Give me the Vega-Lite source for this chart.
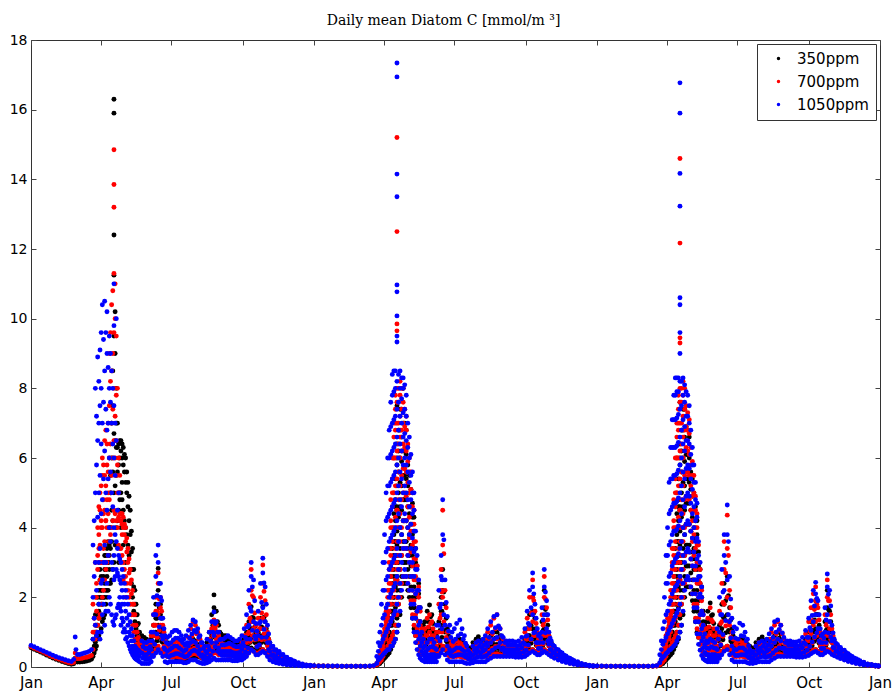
{
"$schema":"https://vega.github.io/schema/vega-lite/v6.json",
"width":849,"height":627,
"autosize":{"type":"none"},
"padding":{"left":31,"top":40,"right":15,"bottom":24},
"background":"white",
"title":{"text":"Daily mean Diatom C [mmol/m ³]","font":"DejaVu Serif","fontSize":14,"fontWeight":"normal","color":"black","offset":5,"anchor":"middle","dx":-12},
"config":{"view":{"stroke":"#333","strokeWidth":1}},
"data":{"values":[
{"t":0,"a":0.55,"b":0.58,"c":0.62},{"t":4,"a":0.51,"b":0.54,"c":0.58},{"t":8,"a":0.47,"b":0.5,"c":0.54},{"t":12,"a":0.43,"b":0.46,"c":0.5},{"t":16,"a":0.39,"b":0.42,"c":0.46},{"t":20,"a":0.34,"b":0.37,"c":0.42},{"t":24,"a":0.3,"b":0.33,"c":0.38},{"t":28,"a":0.26,"b":0.29,"c":0.34},{"t":32,"a":0.22,"b":0.25,"c":0.3},{"t":36,"a":0.19,"b":0.22,"c":0.27},{"t":40,"a":0.16,"b":0.19,"c":0.24},{"t":44,"a":0.13,"b":0.16,"c":0.21},{"t":48,"a":0.1,"b":0.13,"c":0.18},{"t":52,"a":0.08,"b":0.11,"c":0.16},{"t":55,"a":0.09,"b":0.13,"c":0.22},{"t":57,"a":0.25,"b":0.4,"c":0.86},{"t":58,"a":0.15,"b":0.25,"c":0.5},{"t":60,"a":0.14,"b":0.24,"c":0.36},{"t":63,"a":0.14,"b":0.24,"c":0.36},{"t":66,"a":0.15,"b":0.25,"c":0.38},{"t":69,"a":0.16,"b":0.27,"c":0.4},{"t":72,"a":0.17,"b":0.28,"c":0.42},{"t":75,"a":0.19,"b":0.3,"c":0.45},{"t":78,"a":0.22,"b":0.33,"c":0.5},
{"t":80,"a":0.3,"b":0.5,"c":0.8},{"t":80,"a":0.5,"b":1.0,"c":2.0},{"t":80,"a":0.8,"b":1.8,"c":3.5},
{"t":81.5,"a":0.4,"b":0.8,"c":1.4},{"t":81.5,"a":0.6,"b":1.4,"c":2.6},{"t":81.5,"a":0.5,"b":1.0,"c":4.2},
{"t":83,"a":0.5,"b":0.8,"c":1.2},{"t":83,"a":1.0,"b":2.0,"c":3.0},{"t":83,"a":1.5,"b":3.0,"c":5.0},{"t":83,"a":0.7,"b":1.2,"c":8.0},
{"t":84.5,"a":0.6,"b":1.0,"c":0.9},{"t":84.5,"a":1.2,"b":2.4,"c":2.2},{"t":84.5,"a":1.0,"b":2.0,"c":5.8},{"t":84.5,"a":0.9,"b":1.6,"c":7.2},
{"t":86,"a":0.8,"b":1.2,"c":1.0},{"t":86,"a":1.5,"b":2.8,"c":4.3},{"t":86,"a":2.0,"b":4.0,"c":6.5},{"t":86,"a":1.2,"b":3.2,"c":8.9},
{"t":87.5,"a":0.9,"b":1.4,"c":1.8},{"t":87.5,"a":1.6,"b":3.0,"c":3.0},{"t":87.5,"a":2.2,"b":3.8,"c":5.0},{"t":87.5,"a":1.8,"b":4.6,"c":7.0},{"t":87.5,"a":1.4,"b":3.4,"c":8.2},
{"t":89,"a":1.0,"b":1.5,"c":0.8},{"t":89,"a":2.0,"b":3.5,"c":3.4},{"t":89,"a":2.8,"b":5.0,"c":5.5},{"t":89,"a":1.5,"b":4.5,"c":7.5},{"t":89,"a":2.5,"b":2.5,"c":9.1},
{"t":90.5,"a":1.1,"b":1.8,"c":1.0},{"t":90.5,"a":2.2,"b":3.0,"c":2.4},{"t":90.5,"a":2.6,"b":4.2,"c":4.4},{"t":90.5,"a":2.0,"b":5.2,"c":6.4},{"t":90.5,"a":1.8,"b":4.0,"c":8.0},{"t":90.5,"a":2.2,"b":3.0,"c":9.6},
{"t":92,"a":1.3,"b":2.0,"c":1.5},{"t":92,"a":2.5,"b":4.0,"c":2.5},{"t":92,"a":3.0,"b":5.5,"c":4.8},{"t":92,"a":2.0,"b":6.0,"c":7.0},{"t":92,"a":1.8,"b":3.0,"c":10.4},
{"t":93.5,"a":1.4,"b":2.2,"c":1.8},{"t":93.5,"a":2.6,"b":3.4,"c":3.0},{"t":93.5,"a":3.0,"b":4.8,"c":5.4},{"t":93.5,"a":2.2,"b":5.8,"c":7.6},{"t":93.5,"a":2.0,"b":4.4,"c":9.4},
{"t":95,"a":1.5,"b":2.5,"c":1.2},{"t":95,"a":2.8,"b":4.5,"c":3.5},{"t":95,"a":2.4,"b":5.5,"c":6.2},{"t":95,"a":3.2,"b":6.5,"c":8.5},{"t":95,"a":2.0,"b":3.6,"c":10.5},
{"t":96.5,"a":1.8,"b":2.8,"c":1.6},{"t":96.5,"a":2.8,"b":4.2,"c":3.0},{"t":96.5,"a":3.2,"b":5.2,"c":5.0},{"t":96.5,"a":2.8,"b":6.8,"c":7.4},{"t":96.5,"a":2.2,"b":4.2,"c":9.6},
{"t":98,"a":2.0,"b":3.0,"c":2.4},{"t":98,"a":3.0,"b":4.0,"c":4.5},{"t":98,"a":3.4,"b":5.8,"c":6.8},{"t":98,"a":2.6,"b":6.4,"c":9.0},{"t":98,"a":2.2,"b":4.8,"c":10.2},
{"t":99.5,"a":2.2,"b":3.2,"c":1.6},{"t":99.5,"a":3.2,"b":4.4,"c":3.2},{"t":99.5,"a":3.6,"b":5.6,"c":5.4},{"t":99.5,"a":3.0,"b":7.0,"c":7.0},{"t":99.5,"a":3.0,"b":5.0,"c":8.6},
{"t":101,"a":2.4,"b":3.6,"c":2.0},{"t":101,"a":3.2,"b":4.8,"c":4.0},{"t":101,"a":2.8,"b":6.0,"c":6.0},{"t":101,"a":3.5,"b":7.5,"c":8.0},{"t":101,"a":4.0,"b":9.0,"c":9.5},
{"t":102.5,"a":2.4,"b":3.8,"c":1.8},{"t":102.5,"a":3.4,"b":5.0,"c":3.6},{"t":102.5,"a":4.0,"b":6.4,"c":5.6},{"t":102.5,"a":5.0,"b":8.2,"c":7.6},{"t":102.5,"a":5.5,"b":9.6,"c":9.0},
{"t":104,"a":2.5,"b":4.0,"c":1.5},{"t":104,"a":3.6,"b":5.5,"c":3.0},{"t":104,"a":4.5,"b":7.0,"c":5.0},{"t":104,"a":6.0,"b":8.5,"c":7.0},{"t":104,"a":7.0,"b":10.4,"c":8.5},
{"t":105.5,"a":2.8,"b":4.2,"c":1.3},{"t":105.5,"a":4.2,"b":6.0,"c":2.8},{"t":105.5,"a":5.6,"b":7.4,"c":4.6},{"t":105.5,"a":7.5,"b":9.0,"c":6.4},{"t":105.5,"a":8.5,"b":10.8,"c":8.0},
{"t":107,"a":3.0,"b":4.5,"c":1.2},{"t":107,"a":5.0,"b":6.5,"c":2.5},{"t":107,"a":6.7,"b":8.0,"c":4.0},{"t":107,"a":9.5,"b":11.3,"c":6.0},{"t":107,"a":16.3,"b":14.85,"c":7.5},{"t":107,"a":15.9,"b":13.85,"c":9.8},{"t":107,"a":12.4,"b":13.2,"c":3.2},{"t":107,"a":11.25,"b":9.6,"c":11.0},
{"t":108.5,"a":3.5,"b":4.4,"c":1.4},{"t":108.5,"a":5.2,"b":6.0,"c":2.6},{"t":108.5,"a":6.5,"b":7.2,"c":3.8},{"t":108.5,"a":9.0,"b":10.0,"c":5.5},{"t":108.5,"a":10.2,"b":11.0,"c":7.0},
{"t":110,"a":4.0,"b":4.2,"c":1.5},{"t":110,"a":5.5,"b":5.5,"c":2.8},{"t":110,"a":6.3,"b":6.5,"c":3.6},{"t":110,"a":8.0,"b":9.5,"c":6.5},{"t":110,"a":7.0,"b":7.8,"c":10.0},
{"t":111.5,"a":4.2,"b":4.0,"c":1.7},{"t":111.5,"a":5.6,"b":5.0,"c":2.7},{"t":111.5,"a":6.3,"b":5.8,"c":3.4},{"t":111.5,"a":7.0,"b":8.0,"c":4.5},
{"t":113,"a":4.5,"b":3.5,"c":1.8},{"t":113,"a":5.8,"b":4.3,"c":2.6},{"t":113,"a":6.4,"b":5.0,"c":3.2},{"t":113,"a":3.0,"b":6.0,"c":5.0},
{"t":114.5,"a":4.8,"b":3.4,"c":1.7},{"t":114.5,"a":6.0,"b":4.2,"c":2.5},{"t":114.5,"a":6.5,"b":4.4,"c":3.1},{"t":114.5,"a":5.0,"b":5.5,"c":2.0},
{"t":116,"a":5.0,"b":3.4,"c":1.6},{"t":116,"a":6.2,"b":4.2,"c":2.4},{"t":116,"a":6.5,"b":4.4,"c":3.0},{"t":116,"a":4.0,"b":3.0,"c":1.2},
{"t":117.5,"a":4.8,"b":3.2,"c":1.4},{"t":117.5,"a":6.0,"b":4.1,"c":2.2},{"t":117.5,"a":6.4,"b":4.4,"c":2.8},{"t":117.5,"a":5.3,"b":3.8,"c":1.8},
{"t":119,"a":4.5,"b":3.0,"c":1.3},{"t":119,"a":5.8,"b":4.0,"c":2.0},{"t":119,"a":6.3,"b":4.3,"c":2.6},{"t":119,"a":3.5,"b":2.5,"c":1.0},
{"t":120.5,"a":4.2,"b":2.8,"c":1.1},{"t":120.5,"a":5.6,"b":3.8,"c":1.8},{"t":120.5,"a":6.1,"b":4.1,"c":2.4},
{"t":122,"a":4.0,"b":2.6,"c":1.0},{"t":122,"a":5.3,"b":3.6,"c":1.6},{"t":122,"a":6.0,"b":4.0,"c":2.2},{"t":122,"a":3.0,"b":2.0,"c":0.8},
{"t":123.5,"a":3.8,"b":2.4,"c":0.85},{"t":123.5,"a":5.0,"b":3.3,"c":1.4},{"t":123.5,"a":5.6,"b":3.7,"c":2.0},
{"t":125,"a":3.5,"b":2.2,"c":0.7},{"t":125,"a":4.6,"b":3.0,"c":1.2},{"t":125,"a":5.3,"b":3.4,"c":1.8},
{"t":126.5,"a":3.2,"b":2.0,"c":0.6},{"t":126.5,"a":4.2,"b":2.7,"c":1.0},{"t":126.5,"a":4.9,"b":3.1,"c":1.5},
{"t":128,"a":2.8,"b":1.8,"c":0.5},{"t":128,"a":3.8,"b":2.4,"c":0.9},{"t":128,"a":4.5,"b":2.8,"c":1.3},
{"t":129.5,"a":2.4,"b":1.5,"c":0.42},{"t":129.5,"a":3.3,"b":2.1,"c":0.75},{"t":129.5,"a":3.9,"b":2.5,"c":1.1},
{"t":131,"a":2.0,"b":1.2,"c":0.35},{"t":131,"a":2.8,"b":1.8,"c":0.6},{"t":131,"a":3.4,"b":2.2,"c":0.9},
{"t":132.5,"a":1.6,"b":1.0,"c":0.3},{"t":132.5,"a":2.3,"b":1.5,"c":0.5},{"t":132.5,"a":2.8,"b":1.8,"c":0.75},
{"t":134,"a":1.3,"b":0.8,"c":0.25},{"t":134,"a":1.8,"b":1.2,"c":0.4},{"t":134,"a":2.2,"b":1.5,"c":0.6},
{"t":135.5,"a":1.1,"b":0.65,"c":0.22},{"t":135.5,"a":1.5,"b":1.0,"c":0.38},{"t":135.5,"a":1.8,"b":1.2,"c":0.55},
{"t":137,"a":0.9,"b":0.5,"c":0.2},{"t":137,"a":1.2,"b":0.8,"c":0.35},{"t":137,"a":1.5,"b":1.0,"c":0.5},
{"t":138.5,"a":0.75,"b":0.45,"c":0.18},{"t":138.5,"a":1.0,"b":0.65,"c":0.32},{"t":138.5,"a":1.25,"b":0.85,"c":0.48},
{"t":140,"a":0.6,"b":0.4,"c":0.15},{"t":140,"a":0.8,"b":0.55,"c":0.3},{"t":140,"a":1.0,"b":0.7,"c":0.45},
{"t":143,"a":0.5,"b":0.4,"c":0.1},{"t":143,"a":0.7,"b":0.55,"c":0.4},{"t":143,"a":0.9,"b":0.75,"c":0.75},{"t":144.5,"a":0.6,"b":0.48,"c":0.25},{"t":144.5,"a":0.8,"b":0.65,"c":0.58},
{"t":146,"a":0.45,"b":0.35,"c":0.1},{"t":146,"a":0.65,"b":0.5,"c":0.35},{"t":146,"a":0.85,"b":0.7,"c":0.7},{"t":147.5,"a":0.55,"b":0.43,"c":0.23},{"t":147.5,"a":0.75,"b":0.6,"c":0.53},
{"t":149,"a":0.4,"b":0.3,"c":0.1},{"t":149,"a":0.6,"b":0.45,"c":0.35},{"t":149,"a":0.8,"b":0.65,"c":0.7},{"t":150.5,"a":0.5,"b":0.38,"c":0.23},{"t":150.5,"a":0.7,"b":0.55,"c":0.53},
{"t":152,"a":0.35,"b":0.3,"c":0.1},{"t":152,"a":0.55,"b":0.45,"c":0.4},{"t":152,"a":0.75,"b":0.7,"c":0.75},{"t":153.5,"a":0.45,"b":0.38,"c":0.25},{"t":153.5,"a":0.65,"b":0.58,"c":0.58},
{"t":155,"a":0.35,"b":0.3,"c":0.15},{"t":155,"a":0.55,"b":0.5,"c":0.5},{"t":155,"a":0.8,"b":0.9,"c":1.0},{"t":156.5,"a":0.45,"b":0.4,"c":0.33},{"t":156.5,"a":0.68,"b":0.7,"c":0.75},
{"t":158,"a":0.4,"b":0.35,"c":0.3},{"t":158,"a":0.7,"b":0.9,"c":1.0},{"t":158,"a":1.2,"b":1.5,"c":2.0},{"t":158,"a":0.9,"b":1.2,"c":1.5},{"t":159.5,"a":0.55,"b":0.63,"c":0.65},{"t":159.5,"a":0.95,"b":1.2,"c":1.5},
{"t":161,"a":0.5,"b":0.5,"c":0.4},{"t":161,"a":1.0,"b":1.2,"c":1.5},{"t":161,"a":1.8,"b":2.0,"c":2.6},{"t":161,"a":1.4,"b":1.6,"c":3.2},{"t":162.5,"a":0.75,"b":0.85,"c":0.95},{"t":162.5,"a":1.4,"b":1.6,"c":2.05},
{"t":164,"a":0.5,"b":0.6,"c":0.5},{"t":164,"a":1.2,"b":1.5,"c":1.8},{"t":164,"a":2.2,"b":2.4,"c":3.0},{"t":164,"a":2.83,"b":2.7,"c":3.5},{"t":165.5,"a":0.85,"b":1.05,"c":1.15},{"t":165.5,"a":1.7,"b":1.95,"c":2.4},
{"t":167,"a":0.45,"b":0.5,"c":0.4},{"t":167,"a":1.0,"b":1.2,"c":1.4},{"t":167,"a":1.8,"b":2.0,"c":2.4},{"t":167,"a":1.5,"b":1.7,"c":2.0},{"t":168.5,"a":0.73,"b":0.85,"c":0.9},{"t":168.5,"a":1.4,"b":1.6,"c":1.9},
{"t":170,"a":0.4,"b":0.4,"c":0.3},{"t":170,"a":0.7,"b":0.8,"c":0.8},{"t":170,"a":1.1,"b":1.2,"c":1.4},{"t":171.5,"a":0.55,"b":0.6,"c":0.55},{"t":171.5,"a":0.9,"b":1.0,"c":1.1},
{"t":173,"a":0.35,"b":0.35,"c":0.15},{"t":173,"a":0.55,"b":0.5,"c":0.5},{"t":173,"a":0.8,"b":0.75,"c":0.9},{"t":174.5,"a":0.45,"b":0.43,"c":0.33},{"t":174.5,"a":0.68,"b":0.63,"c":0.7},
{"t":176,"a":0.3,"b":0.3,"c":0.12},{"t":176,"a":0.5,"b":0.45,"c":0.45},{"t":176,"a":0.7,"b":0.65,"c":0.85},{"t":177.5,"a":0.4,"b":0.38,"c":0.29},{"t":177.5,"a":0.6,"b":0.55,"c":0.65},
{"t":179,"a":0.3,"b":0.28,"c":0.15},{"t":179,"a":0.45,"b":0.42,"c":0.5},{"t":179,"a":0.65,"b":0.6,"c":0.9},{"t":180.5,"a":0.38,"b":0.35,"c":0.33},{"t":180.5,"a":0.55,"b":0.51,"c":0.7},
{"t":182,"a":0.3,"b":0.28,"c":0.15},{"t":182,"a":0.45,"b":0.42,"c":0.55},{"t":182,"a":0.6,"b":0.65,"c":1.0},{"t":183.5,"a":0.38,"b":0.35,"c":0.35},{"t":183.5,"a":0.53,"b":0.54,"c":0.78},
{"t":185,"a":0.28,"b":0.3,"c":0.15},{"t":185,"a":0.42,"b":0.45,"c":0.6},{"t":185,"a":0.55,"b":0.7,"c":1.05},{"t":186.5,"a":0.35,"b":0.38,"c":0.38},{"t":186.5,"a":0.49,"b":0.58,"c":0.83},
{"t":188,"a":0.25,"b":0.3,"c":0.15},{"t":188,"a":0.4,"b":0.48,"c":0.6},{"t":188,"a":0.5,"b":0.75,"c":1.05},{"t":189.5,"a":0.33,"b":0.39,"c":0.38},{"t":189.5,"a":0.45,"b":0.62,"c":0.83},
{"t":191,"a":0.22,"b":0.28,"c":0.15},{"t":191,"a":0.35,"b":0.45,"c":0.55},{"t":191,"a":0.48,"b":0.7,"c":1.0},{"t":192.5,"a":0.29,"b":0.37,"c":0.35},{"t":192.5,"a":0.42,"b":0.58,"c":0.78},
{"t":194,"a":0.2,"b":0.25,"c":0.15},{"t":194,"a":0.3,"b":0.4,"c":0.5},{"t":194,"a":0.45,"b":0.6,"c":0.9},{"t":195.5,"a":0.25,"b":0.33,"c":0.33},{"t":195.5,"a":0.38,"b":0.5,"c":0.7},
{"t":197,"a":0.2,"b":0.25,"c":0.12},{"t":197,"a":0.3,"b":0.4,"c":0.45},{"t":197,"a":0.45,"b":0.55,"c":0.8},{"t":198.5,"a":0.25,"b":0.33,"c":0.29},{"t":198.5,"a":0.38,"b":0.48,"c":0.63},
{"t":200,"a":0.22,"b":0.28,"c":0.12},{"t":200,"a":0.35,"b":0.45,"c":0.5},{"t":200,"a":0.5,"b":0.65,"c":0.9},{"t":201.5,"a":0.29,"b":0.37,"c":0.31},{"t":201.5,"a":0.43,"b":0.55,"c":0.7},
{"t":203,"a":0.25,"b":0.3,"c":0.15},{"t":203,"a":0.4,"b":0.55,"c":0.6},{"t":203,"a":0.6,"b":0.85,"c":1.05},{"t":204.5,"a":0.33,"b":0.43,"c":0.38},{"t":204.5,"a":0.5,"b":0.7,"c":0.83},
{"t":206,"a":0.3,"b":0.35,"c":0.2},{"t":206,"a":0.45,"b":0.65,"c":0.7},{"t":206,"a":0.7,"b":1.1,"c":1.2},{"t":207.5,"a":0.38,"b":0.5,"c":0.45},{"t":207.5,"a":0.58,"b":0.88,"c":0.95},
{"t":209,"a":0.32,"b":0.38,"c":0.2},{"t":209,"a":0.5,"b":0.7,"c":0.75},{"t":209,"a":0.8,"b":1.3,"c":1.35},{"t":210.5,"a":0.41,"b":0.54,"c":0.48},{"t":210.5,"a":0.65,"b":1.0,"c":1.05},
{"t":212,"a":0.32,"b":0.38,"c":0.2},{"t":212,"a":0.5,"b":0.7,"c":0.7},{"t":212,"a":0.75,"b":1.2,"c":1.3},{"t":213.5,"a":0.41,"b":0.54,"c":0.45},{"t":213.5,"a":0.63,"b":0.95,"c":1.0},
{"t":215,"a":0.3,"b":0.35,"c":0.15},{"t":215,"a":0.45,"b":0.6,"c":0.6},{"t":215,"a":0.65,"b":1.0,"c":1.1},{"t":216.5,"a":0.38,"b":0.48,"c":0.38},{"t":216.5,"a":0.55,"b":0.8,"c":0.85},
{"t":218,"a":0.28,"b":0.3,"c":0.12},{"t":218,"a":0.4,"b":0.5,"c":0.5},{"t":218,"a":0.55,"b":0.8,"c":0.9},{"t":219.5,"a":0.34,"b":0.4,"c":0.31},{"t":219.5,"a":0.48,"b":0.65,"c":0.7},
{"t":221,"a":0.25,"b":0.25,"c":0.1},{"t":221,"a":0.35,"b":0.4,"c":0.35},{"t":221,"a":0.5,"b":0.6,"c":0.7},{"t":222.5,"a":0.3,"b":0.33,"c":0.23},{"t":222.5,"a":0.43,"b":0.5,"c":0.53},
{"t":224,"a":0.25,"b":0.22,"c":0.1},{"t":224,"a":0.35,"b":0.35,"c":0.3},{"t":224,"a":0.5,"b":0.5,"c":0.6},{"t":225.5,"a":0.3,"b":0.29,"c":0.2},{"t":225.5,"a":0.43,"b":0.43,"c":0.45},
{"t":227,"a":0.3,"b":0.25,"c":0.12},{"t":227,"a":0.45,"b":0.4,"c":0.4},{"t":227,"a":0.7,"b":0.6,"c":0.8},{"t":228.5,"a":0.38,"b":0.33,"c":0.26},{"t":228.5,"a":0.58,"b":0.5,"c":0.6},
{"t":230,"a":0.35,"b":0.3,"c":0.15},{"t":230,"a":0.6,"b":0.5,"c":0.5},{"t":230,"a":1.0,"b":0.8,"c":1.0},{"t":231.5,"a":0.48,"b":0.4,"c":0.33},{"t":231.5,"a":0.8,"b":0.65,"c":0.75},
{"t":233,"a":0.45,"b":0.35,"c":0.2},{"t":233,"a":0.9,"b":0.7,"c":0.7},{"t":233,"a":1.5,"b":1.1,"c":1.3},{"t":234.5,"a":0.68,"b":0.53,"c":0.45},{"t":234.5,"a":1.2,"b":0.9,"c":1.0},
{"t":236,"a":0.5,"b":0.4,"c":0.25},{"t":236,"a":1.2,"b":0.9,"c":0.9},{"t":236,"a":2.07,"b":1.35,"c":1.58},{"t":236,"a":1.7,"b":1.2,"c":1.3},{"t":237.5,"a":0.85,"b":0.65,"c":0.58},{"t":237.5,"a":1.6,"b":1.1,"c":1.25},
{"t":239,"a":0.5,"b":0.4,"c":0.2},{"t":239,"a":1.0,"b":0.8,"c":0.7},{"t":239,"a":1.6,"b":1.2,"c":1.3},{"t":240.5,"a":0.75,"b":0.6,"c":0.45},{"t":240.5,"a":1.3,"b":1.0,"c":1.0},
{"t":242,"a":0.5,"b":0.35,"c":0.2},{"t":242,"a":0.8,"b":0.6,"c":0.55},{"t":242,"a":1.2,"b":0.9,"c":1.0},{"t":243.5,"a":0.65,"b":0.48,"c":0.38},{"t":243.5,"a":1.0,"b":0.75,"c":0.78},
{"t":245,"a":0.5,"b":0.35,"c":0.2},{"t":245,"a":0.7,"b":0.5,"c":0.45},{"t":245,"a":0.95,"b":0.7,"c":0.8},{"t":246.5,"a":0.6,"b":0.43,"c":0.33},{"t":246.5,"a":0.83,"b":0.6,"c":0.63},
{"t":248,"a":0.5,"b":0.35,"c":0.2},{"t":248,"a":0.7,"b":0.45,"c":0.45},{"t":248,"a":0.9,"b":0.65,"c":0.8},{"t":249.5,"a":0.6,"b":0.4,"c":0.33},{"t":249.5,"a":0.8,"b":0.55,"c":0.63},
{"t":251,"a":0.5,"b":0.35,"c":0.2},{"t":251,"a":0.7,"b":0.45,"c":0.45},{"t":251,"a":0.9,"b":0.6,"c":0.85},{"t":252.5,"a":0.6,"b":0.4,"c":0.33},{"t":252.5,"a":0.8,"b":0.53,"c":0.65},
{"t":254,"a":0.48,"b":0.33,"c":0.2},{"t":254,"a":0.65,"b":0.45,"c":0.45},{"t":254,"a":0.85,"b":0.6,"c":0.9},{"t":255.5,"a":0.57,"b":0.39,"c":0.33},{"t":255.5,"a":0.75,"b":0.53,"c":0.68},
{"t":257,"a":0.45,"b":0.32,"c":0.2},{"t":257,"a":0.6,"b":0.42,"c":0.45},{"t":257,"a":0.8,"b":0.6,"c":0.85},{"t":258.5,"a":0.53,"b":0.37,"c":0.33},{"t":258.5,"a":0.7,"b":0.51,"c":0.65},
{"t":260,"a":0.45,"b":0.32,"c":0.18},{"t":260,"a":0.6,"b":0.42,"c":0.42},{"t":260,"a":0.75,"b":0.58,"c":0.8},{"t":261.5,"a":0.53,"b":0.37,"c":0.3},{"t":261.5,"a":0.68,"b":0.5,"c":0.61},
{"t":263,"a":0.42,"b":0.3,"c":0.18},{"t":263,"a":0.58,"b":0.4,"c":0.4},{"t":263,"a":0.72,"b":0.55,"c":0.75},{"t":264.5,"a":0.5,"b":0.35,"c":0.29},{"t":264.5,"a":0.65,"b":0.48,"c":0.58},
{"t":266,"a":0.42,"b":0.3,"c":0.18},{"t":266,"a":0.55,"b":0.4,"c":0.4},{"t":266,"a":0.7,"b":0.55,"c":0.75},{"t":267.5,"a":0.49,"b":0.35,"c":0.29},{"t":267.5,"a":0.63,"b":0.48,"c":0.58},
{"t":269,"a":0.4,"b":0.3,"c":0.2},{"t":269,"a":0.55,"b":0.4,"c":0.42},{"t":269,"a":0.7,"b":0.6,"c":0.8},{"t":270.5,"a":0.48,"b":0.35,"c":0.31},{"t":270.5,"a":0.63,"b":0.5,"c":0.61},
{"t":272,"a":0.4,"b":0.3,"c":0.2},{"t":272,"a":0.55,"b":0.45,"c":0.5},{"t":272,"a":0.75,"b":0.7,"c":0.9},{"t":273.5,"a":0.48,"b":0.38,"c":0.35},{"t":273.5,"a":0.65,"b":0.58,"c":0.7},
{"t":275,"a":0.4,"b":0.32,"c":0.25},{"t":275,"a":0.6,"b":0.55,"c":0.6},{"t":275,"a":0.8,"b":0.9,"c":1.1},{"t":276.5,"a":0.5,"b":0.44,"c":0.43},{"t":276.5,"a":0.7,"b":0.73,"c":0.85},
{"t":278,"a":0.45,"b":0.35,"c":0.3},{"t":278,"a":0.7,"b":0.7,"c":0.8},{"t":278,"a":1.0,"b":1.2,"c":1.5},{"t":279.5,"a":0.58,"b":0.53,"c":0.55},{"t":279.5,"a":0.85,"b":0.95,"c":1.15},
{"t":281,"a":0.5,"b":0.45,"c":0.4},{"t":281,"a":0.9,"b":1.0,"c":1.2},{"t":281,"a":1.3,"b":1.8,"c":2.2},{"t":282.5,"a":0.7,"b":0.73,"c":0.8},{"t":282.5,"a":1.1,"b":1.4,"c":1.7},
{"t":284,"a":0.55,"b":0.5,"c":0.5},{"t":284,"a":1.1,"b":1.3,"c":1.6},{"t":284,"a":1.73,"b":2.8,"c":3.0},{"t":284,"a":1.4,"b":2.2,"c":2.6},{"t":285.5,"a":0.83,"b":0.9,"c":1.05},{"t":285.5,"a":1.42,"b":2.05,"c":2.3},
{"t":287,"a":0.5,"b":0.45,"c":0.45},{"t":287,"a":0.9,"b":1.1,"c":1.3},{"t":287,"a":1.4,"b":2.0,"c":2.5},{"t":288.5,"a":0.7,"b":0.78,"c":0.88},{"t":288.5,"a":1.15,"b":1.55,"c":1.9},
{"t":290,"a":0.45,"b":0.4,"c":0.35},{"t":290,"a":0.7,"b":0.8,"c":0.8},{"t":290,"a":1.0,"b":1.2,"c":1.25},{"t":291.5,"a":0.58,"b":0.6,"c":0.58},{"t":291.5,"a":0.85,"b":1.0,"c":1.03},
{"t":293,"a":0.45,"b":0.4,"c":0.35},{"t":293,"a":0.7,"b":0.8,"c":0.9},{"t":293,"a":1.0,"b":1.4,"c":1.6},{"t":294.5,"a":0.58,"b":0.6,"c":0.63},{"t":294.5,"a":0.85,"b":1.1,"c":1.25},
{"t":296,"a":0.5,"b":0.45,"c":0.4},{"t":296,"a":0.9,"b":1.1,"c":1.3},{"t":296,"a":1.4,"b":2.0,"c":2.4},{"t":297.5,"a":0.7,"b":0.78,"c":0.85},{"t":297.5,"a":1.15,"b":1.55,"c":1.85},
{"t":299,"a":0.5,"b":0.5,"c":0.45},{"t":299,"a":1.1,"b":1.4,"c":1.7},{"t":299,"a":1.73,"b":2.93,"c":3.12},{"t":299,"a":1.4,"b":2.4,"c":2.7},{"t":300.5,"a":0.8,"b":0.95,"c":1.08},{"t":300.5,"a":1.42,"b":2.17,"c":2.41},
{"t":302,"a":0.45,"b":0.45,"c":0.4},{"t":302,"a":0.9,"b":1.1,"c":1.3},{"t":302,"a":1.3,"b":1.9,"c":2.3},{"t":303.5,"a":0.68,"b":0.78,"c":0.85},{"t":303.5,"a":1.1,"b":1.5,"c":1.8},
{"t":305,"a":0.4,"b":0.35,"c":0.3},{"t":305,"a":0.7,"b":0.6,"c":0.7},{"t":305,"a":0.9,"b":1.0,"c":1.2},{"t":306.5,"a":0.55,"b":0.48,"c":0.5},{"t":306.5,"a":0.8,"b":0.8,"c":0.95},
{"t":308,"a":0.35,"b":0.3,"c":0.2},{"t":308,"a":0.5,"b":0.45,"c":0.45},{"t":308,"a":0.7,"b":0.6,"c":0.7},{"t":310,"a":0.43,"b":0.38,"c":0.33},{"t":310,"a":0.6,"b":0.53,"c":0.58},
{"t":312,"a":0.3,"b":0.25,"c":0.15},{"t":312,"a":0.4,"b":0.35,"c":0.35},{"t":312,"a":0.55,"b":0.5,"c":0.6},{"t":314,"a":0.35,"b":0.3,"c":0.25},{"t":314,"a":0.48,"b":0.43,"c":0.48},
{"t":316,"a":0.25,"b":0.22,"c":0.12},{"t":316,"a":0.35,"b":0.3,"c":0.3},{"t":316,"a":0.45,"b":0.42,"c":0.5},{"t":318,"a":0.3,"b":0.26,"c":0.21},{"t":318,"a":0.4,"b":0.36,"c":0.4},
{"t":320,"a":0.2,"b":0.18,"c":0.1},{"t":320,"a":0.3,"b":0.27,"c":0.25},{"t":320,"a":0.38,"b":0.36,"c":0.45},{"t":322.5,"a":0.25,"b":0.23,"c":0.18},{"t":322.5,"a":0.34,"b":0.32,"c":0.35},
{"t":325,"a":0.15,"b":0.15,"c":0.08},{"t":325,"a":0.22,"b":0.22,"c":0.2},{"t":325,"a":0.3,"b":0.3,"c":0.36},{"t":327.5,"a":0.19,"b":0.19,"c":0.14},{"t":327.5,"a":0.26,"b":0.26,"c":0.28},
{"t":330,"a":0.12,"b":0.12,"c":0.06},{"t":330,"a":0.18,"b":0.18,"c":0.16},{"t":330,"a":0.24,"b":0.24,"c":0.28},{"t":332.5,"a":0.15,"b":0.15,"c":0.11},{"t":332.5,"a":0.21,"b":0.21,"c":0.22},
{"t":335,"a":0.1,"b":0.1,"c":0.05},{"t":335,"a":0.14,"b":0.14,"c":0.13},{"t":335,"a":0.19,"b":0.19,"c":0.22},{"t":337.5,"a":0.12,"b":0.12,"c":0.09},{"t":337.5,"a":0.17,"b":0.17,"c":0.18},
{"t":340,"a":0.08,"b":0.08,"c":0.04},{"t":340,"a":0.11,"b":0.11,"c":0.1},{"t":340,"a":0.14,"b":0.14,"c":0.17},
{"t":345,"a":0.06,"b":0.06,"c":0.04},{"t":345,"a":0.09,"b":0.09,"c":0.12},
{"t":350,"a":0.05,"b":0.05,"c":0.03},{"t":350,"a":0.07,"b":0.07,"c":0.09},
{"t":355,"a":0.04,"b":0.04,"c":0.03},{"t":355,"a":0.05,"b":0.05,"c":0.06},
{"t":360,"a":0.03,"b":0.03,"c":0.03},{"t":360,"a":0.04,"b":0.04,"c":0.05},
{"t":365,"a":0.03,"b":0.03,"c":0.04},{"t":371,"a":0.03,"b":0.03,"c":0.03},{"t":377,"a":0.03,"b":0.03,"c":0.03},{"t":383,"a":0.02,"b":0.03,"c":0.03},{"t":389,"a":0.02,"b":0.02,"c":0.03},{"t":395,"a":0.02,"b":0.02,"c":0.03},{"t":401,"a":0.02,"b":0.02,"c":0.02},{"t":407,"a":0.02,"b":0.02,"c":0.02},{"t":413,"a":0.02,"b":0.02,"c":0.02},{"t":419,"a":0.02,"b":0.02,"c":0.02},{"t":425,"a":0.02,"b":0.02,"c":0.02},{"t":431,"a":0.02,"b":0.02,"c":0.02},{"t":437,"a":0.02,"b":0.02,"c":0.03},{"t":442,"a":0.03,"b":0.03,"c":0.04},
{"t":446,"a":0.05,"b":0.06,"c":0.1},{"t":446,"a":0.08,"b":0.1,"c":0.3},
{"t":448,"a":0.08,"b":0.1,"c":0.2},{"t":448,"a":0.1,"b":0.15,"c":0.45},{"t":448,"a":0.12,"b":0.2,"c":0.7},
{"t":450,"a":0.1,"b":0.15,"c":0.25},{"t":450,"a":0.15,"b":0.3,"c":0.6},{"t":450,"a":0.2,"b":0.4,"c":1.0},
{"t":452,"a":0.15,"b":0.2,"c":0.3},{"t":452,"a":0.25,"b":0.45,"c":0.7},{"t":452,"a":0.3,"b":0.6,"c":1.2},{"t":452,"a":0.2,"b":0.5,"c":1.8},
{"t":454,"a":0.2,"b":0.3,"c":0.35},{"t":454,"a":0.3,"b":0.6,"c":0.8},{"t":454,"a":0.4,"b":0.9,"c":1.4},{"t":454,"a":0.3,"b":0.7,"c":2.2},{"t":454,"a":0.25,"b":0.5,"c":3.0},
{"t":456,"a":0.25,"b":0.4,"c":0.4},{"t":456,"a":0.4,"b":0.8,"c":0.9},{"t":456,"a":0.6,"b":1.1,"c":1.5},{"t":456,"a":0.5,"b":1.4,"c":2.2},{"t":456,"a":0.4,"b":1.0,"c":3.0},{"t":456,"a":0.3,"b":0.8,"c":3.8},
{"t":458,"a":0.3,"b":0.5,"c":0.45},{"t":458,"a":0.5,"b":0.9,"c":1.0},{"t":458,"a":0.7,"b":1.3,"c":1.7},{"t":458,"a":0.9,"b":1.6,"c":2.5},{"t":458,"a":0.6,"b":1.2,"c":3.3},{"t":458,"a":0.5,"b":1.0,"c":4.2},{"t":458,"a":0.4,"b":0.8,"c":5.0},
{"t":460,"a":0.35,"b":0.6,"c":0.5},{"t":460,"a":0.6,"b":1.0,"c":1.1},{"t":460,"a":0.9,"b":1.4,"c":1.8},{"t":460,"a":1.2,"b":1.8,"c":2.6},{"t":460,"a":1.0,"b":2.2,"c":3.4},{"t":460,"a":0.8,"b":2.0,"c":4.3},{"t":460,"a":0.6,"b":1.5,"c":5.2},{"t":460,"a":0.5,"b":1.2,"c":6.0},
{"t":462,"a":0.4,"b":0.7,"c":0.5},{"t":462,"a":0.7,"b":1.2,"c":1.2},{"t":462,"a":1.0,"b":1.6,"c":2.0},{"t":462,"a":1.4,"b":2.2,"c":2.8},{"t":462,"a":1.8,"b":2.8,"c":3.6},{"t":462,"a":1.4,"b":3.4,"c":4.4},{"t":462,"a":1.0,"b":3.0,"c":5.2},{"t":462,"a":0.8,"b":2.4,"c":6.0},{"t":462,"a":0.6,"b":1.8,"c":6.8},
{"t":464,"a":0.5,"b":0.8,"c":0.6},{"t":464,"a":0.8,"b":1.3,"c":1.3},{"t":464,"a":1.2,"b":1.8,"c":2.1},{"t":464,"a":1.6,"b":2.6,"c":2.9},{"t":464,"a":2.2,"b":3.4,"c":3.7},{"t":464,"a":2.6,"b":4.2,"c":4.5},{"t":464,"a":2.0,"b":4.8,"c":5.3},{"t":464,"a":1.6,"b":4.0,"c":6.1},{"t":464,"a":1.2,"b":3.2,"c":6.9},{"t":464,"a":0.9,"b":2.4,"c":7.6},
{"t":466,"a":0.6,"b":0.9,"c":0.6},{"t":466,"a":0.9,"b":1.4,"c":1.4},{"t":466,"a":1.3,"b":2.0,"c":2.2},{"t":466,"a":1.8,"b":2.8,"c":3.0},{"t":466,"a":2.4,"b":3.6,"c":3.8},{"t":466,"a":3.0,"b":4.6,"c":4.6},{"t":466,"a":3.4,"b":5.4,"c":5.4},{"t":466,"a":2.8,"b":6.0,"c":6.2},{"t":466,"a":2.2,"b":5.0,"c":7.0},{"t":466,"a":1.6,"b":4.0,"c":7.8},{"t":466,"a":1.2,"b":3.0,"c":8.4},
{"t":468,"a":0.7,"b":1.0,"c":0.7},{"t":468,"a":1.0,"b":1.5,"c":1.5},{"t":468,"a":1.5,"b":2.2,"c":2.3},{"t":468,"a":2.0,"b":3.0,"c":3.1},{"t":468,"a":2.6,"b":4.0,"c":3.9},{"t":468,"a":3.2,"b":5.0,"c":4.7},{"t":468,"a":3.8,"b":6.0,"c":5.5},{"t":468,"a":4.4,"b":6.6,"c":6.3},{"t":468,"a":3.6,"b":7.0,"c":7.1},{"t":468,"a":2.8,"b":6.0,"c":7.9},{"t":468,"a":2.0,"b":5.0,"c":8.5},
{"t":470,"a":0.8,"b":1.2,"c":0.8},{"t":470,"a":1.2,"b":1.8,"c":1.6},{"t":470,"a":1.7,"b":2.5,"c":2.4},{"t":470,"a":2.3,"b":3.4,"c":3.2},{"t":470,"a":3.0,"b":4.3,"c":4.0},{"t":470,"a":3.6,"b":5.2,"c":4.8},{"t":470,"a":4.2,"b":6.0,"c":5.6},{"t":470,"a":4.8,"b":6.8,"c":6.4},{"t":470,"a":5.4,"b":7.4,"c":7.2},{"t":470,"a":4.6,"b":7.8,"c":8.0},{"t":470,"a":3.6,"b":7.0,"c":8.5},
{"t":472,"a":1.0,"b":1.5,"c":1.0},{"t":472,"a":1.4,"b":2.0,"c":1.8},{"t":472,"a":2.0,"b":2.8,"c":2.6},{"t":472,"a":2.6,"b":3.6,"c":3.4},{"t":472,"a":3.2,"b":4.5,"c":4.2},{"t":472,"a":3.9,"b":5.4,"c":5.0},{"t":472,"a":4.6,"b":6.2,"c":5.8},{"t":472,"a":5.2,"b":7.0,"c":6.6},{"t":472,"a":5.8,"b":7.6,"c":7.4},{"t":472,"a":6.4,"b":8.0,"c":8.2},{"t":472,"a":7.5,"b":9.85,"c":9.33},{"t":472,"a":6.0,"b":9.65,"c":9.5},{"t":472,"a":4.5,"b":12.5,"c":10.08},{"t":472,"a":3.5,"b":15.2,"c":10.77},{"t":472,"a":2.5,"b":4.0,"c":10.97},{"t":472,"a":3.0,"b":4.5,"c":13.5},{"t":472,"a":2.2,"b":3.0,"c":14.15},{"t":472,"a":1.5,"b":2.5,"c":16.94},{"t":472,"a":1.2,"b":2.0,"c":17.34},
{"t":474,"a":1.2,"b":1.8,"c":1.2},{"t":474,"a":1.8,"b":2.4,"c":2.0},{"t":474,"a":2.4,"b":3.2,"c":2.8},{"t":474,"a":3.0,"b":4.0,"c":3.6},{"t":474,"a":3.6,"b":4.8,"c":4.4},{"t":474,"a":4.3,"b":5.6,"c":5.2},{"t":474,"a":5.0,"b":6.4,"c":6.0},{"t":474,"a":5.6,"b":7.0,"c":6.8},{"t":474,"a":6.2,"b":7.6,"c":7.6},{"t":474,"a":6.8,"b":8.0,"c":8.4},
{"t":476,"a":1.5,"b":2.0,"c":1.6},{"t":476,"a":2.2,"b":2.8,"c":2.4},{"t":476,"a":2.8,"b":3.6,"c":3.2},{"t":476,"a":3.4,"b":4.4,"c":4.0},{"t":476,"a":4.0,"b":5.2,"c":4.8},{"t":476,"a":4.6,"b":6.0,"c":5.6},{"t":476,"a":5.3,"b":6.6,"c":6.4},{"t":476,"a":6.0,"b":7.2,"c":7.2},{"t":476,"a":6.8,"b":7.8,"c":8.0},{"t":476,"a":7.4,"b":8.2,"c":8.5},
{"t":478,"a":2.0,"b":2.4,"c":2.2},{"t":478,"a":2.6,"b":3.2,"c":3.0},{"t":478,"a":3.2,"b":4.0,"c":3.8},{"t":478,"a":3.8,"b":4.8,"c":4.6},{"t":478,"a":4.5,"b":5.5,"c":5.4},{"t":478,"a":5.2,"b":6.2,"c":6.2},{"t":478,"a":5.9,"b":6.8,"c":7.0},{"t":478,"a":6.6,"b":7.4,"c":7.7},{"t":478,"a":7.4,"b":8.0,"c":8.3},
{"t":480,"a":2.4,"b":2.6,"c":2.6},{"t":480,"a":3.0,"b":3.4,"c":3.4},{"t":480,"a":3.6,"b":4.2,"c":4.2},{"t":480,"a":4.2,"b":5.0,"c":5.0},{"t":480,"a":4.8,"b":5.7,"c":5.8},{"t":480,"a":5.5,"b":6.4,"c":6.6},{"t":480,"a":6.2,"b":7.0,"c":7.3},{"t":480,"a":7.0,"b":7.6,"c":8.0},{"t":480,"a":8.0,"b":8.0,"c":8.3},
{"t":482,"a":2.4,"b":2.6,"c":2.8},{"t":482,"a":3.0,"b":3.4,"c":3.6},{"t":482,"a":3.6,"b":4.2,"c":4.4},{"t":482,"a":4.2,"b":5.0,"c":5.2},{"t":482,"a":4.8,"b":5.7,"c":6.0},{"t":482,"a":5.5,"b":6.3,"c":6.7},{"t":482,"a":6.2,"b":6.9,"c":7.4},{"t":482,"a":7.0,"b":7.4,"c":8.1},
{"t":484,"a":2.4,"b":2.6,"c":2.6},{"t":484,"a":3.0,"b":3.4,"c":3.4},{"t":484,"a":3.6,"b":4.2,"c":4.2},{"t":484,"a":4.2,"b":4.9,"c":5.0},{"t":484,"a":4.8,"b":5.6,"c":5.8},{"t":484,"a":5.4,"b":6.2,"c":6.5},{"t":484,"a":6.1,"b":6.8,"c":7.2},{"t":484,"a":6.8,"b":7.2,"c":7.8},
{"t":486,"a":2.2,"b":2.4,"c":2.4},{"t":486,"a":2.8,"b":3.2,"c":3.2},{"t":486,"a":3.4,"b":4.0,"c":4.0},{"t":486,"a":4.0,"b":4.6,"c":4.8},{"t":486,"a":4.6,"b":5.3,"c":5.6},{"t":486,"a":5.2,"b":5.9,"c":6.3},{"t":486,"a":5.8,"b":6.4,"c":7.0},
{"t":488,"a":2.0,"b":2.2,"c":2.2},{"t":488,"a":2.6,"b":3.0,"c":3.0},{"t":488,"a":3.2,"b":3.7,"c":3.8},{"t":488,"a":3.8,"b":4.3,"c":4.6},{"t":488,"a":4.4,"b":5.0,"c":5.3},{"t":488,"a":5.0,"b":5.6,"c":6.0},{"t":488,"a":5.5,"b":6.0,"c":6.6},
{"t":490,"a":1.7,"b":1.9,"c":1.8},{"t":490,"a":2.3,"b":2.6,"c":2.6},{"t":490,"a":2.9,"b":3.3,"c":3.4},{"t":490,"a":3.5,"b":3.9,"c":4.1},{"t":490,"a":4.1,"b":4.6,"c":4.8},{"t":490,"a":4.6,"b":5.1,"c":5.5},{"t":490,"a":5.1,"b":5.6,"c":6.1},
{"t":492,"a":1.4,"b":1.5,"c":1.4},{"t":492,"a":2.0,"b":2.2,"c":2.2},{"t":492,"a":2.6,"b":2.9,"c":3.0},{"t":492,"a":3.2,"b":3.5,"c":3.7},{"t":492,"a":3.8,"b":4.1,"c":4.4},{"t":492,"a":4.3,"b":4.6,"c":5.0},{"t":492,"a":4.7,"b":5.0,"c":5.6},
{"t":494,"a":1.1,"b":1.2,"c":1.0},{"t":494,"a":1.7,"b":1.9,"c":1.8},{"t":494,"a":2.3,"b":2.5,"c":2.6},{"t":494,"a":2.9,"b":3.1,"c":3.3},{"t":494,"a":3.4,"b":3.6,"c":3.9},{"t":494,"a":3.9,"b":4.1,"c":4.5},{"t":494,"a":4.3,"b":4.5,"c":5.0},
{"t":496,"a":0.9,"b":0.9,"c":0.7},{"t":496,"a":1.4,"b":1.5,"c":1.4},{"t":496,"a":2.0,"b":2.1,"c":2.1},{"t":496,"a":2.5,"b":2.6,"c":2.8},{"t":496,"a":3.0,"b":3.1,"c":3.4},{"t":496,"a":3.4,"b":3.6,"c":3.9},
{"t":498,"a":0.7,"b":0.7,"c":0.5},{"t":498,"a":1.1,"b":1.1,"c":1.0},{"t":498,"a":1.6,"b":1.6,"c":1.6},{"t":498,"a":2.1,"b":2.1,"c":2.2},{"t":498,"a":2.5,"b":2.5,"c":2.8},{"t":498,"a":2.9,"b":2.9,"c":3.2},
{"t":500,"a":0.5,"b":0.5,"c":0.35},{"t":500,"a":0.9,"b":0.9,"c":0.8},{"t":500,"a":1.3,"b":1.3,"c":1.2},{"t":500,"a":1.7,"b":1.7,"c":1.7},{"t":500,"a":2.1,"b":2.0,"c":2.2},{"t":500,"a":2.4,"b":2.3,"c":2.5},
{"t":502,"a":0.4,"b":0.4,"c":0.25},{"t":502,"a":0.7,"b":0.7,"c":0.6},{"t":502,"a":1.0,"b":1.0,"c":0.9},{"t":502,"a":1.3,"b":1.2,"c":1.3},{"t":502,"a":1.7,"b":1.6,"c":1.7},
{"t":504,"a":0.35,"b":0.35,"c":0.2},{"t":504,"a":0.6,"b":0.6,"c":0.45},{"t":504,"a":0.9,"b":0.85,"c":0.7},{"t":504,"a":1.2,"b":1.1,"c":1.0},
{"t":506,"a":0.35,"b":0.35,"c":0.18},{"t":506,"a":0.6,"b":0.6,"c":0.35},{"t":506,"a":0.9,"b":0.8,"c":0.55},{"t":506,"a":1.2,"b":1.0,"c":0.8},
{"t":508,"a":0.4,"b":0.4,"c":0.15},{"t":508,"a":0.8,"b":0.7,"c":0.3},{"t":508,"a":1.3,"b":1.1,"c":0.6},{"t":509.5,"a":0.6,"b":0.55,"c":0.23},{"t":509.5,"a":1.05,"b":0.9,"c":0.45},
{"t":511,"a":0.5,"b":0.5,"c":0.15},{"t":511,"a":1.0,"b":0.9,"c":0.35},{"t":511,"a":1.6,"b":1.4,"c":0.7},{"t":512.5,"a":0.75,"b":0.7,"c":0.25},{"t":512.5,"a":1.3,"b":1.15,"c":0.53},
{"t":514,"a":0.55,"b":0.5,"c":0.15},{"t":514,"a":1.1,"b":1.0,"c":0.35},{"t":514,"a":1.78,"b":1.5,"c":0.8},{"t":515.5,"a":0.83,"b":0.75,"c":0.25},{"t":515.5,"a":1.44,"b":1.25,"c":0.58},
{"t":517,"a":0.5,"b":0.45,"c":0.15},{"t":517,"a":1.0,"b":0.9,"c":0.35},{"t":517,"a":1.5,"b":1.3,"c":0.8},{"t":518.5,"a":0.75,"b":0.68,"c":0.25},{"t":518.5,"a":1.25,"b":1.1,"c":0.58},
{"t":520,"a":0.4,"b":0.35,"c":0.15},{"t":520,"a":0.7,"b":0.6,"c":0.35},{"t":520,"a":1.0,"b":0.9,"c":0.7},{"t":521.5,"a":0.55,"b":0.48,"c":0.25},{"t":521.5,"a":0.85,"b":0.75,"c":0.53},
{"t":523,"a":0.35,"b":0.3,"c":0.15},{"t":523,"a":0.6,"b":0.6,"c":0.5},{"t":523,"a":0.9,"b":1.0,"c":1.2},{"t":524.5,"a":0.48,"b":0.45,"c":0.33},{"t":524.5,"a":0.75,"b":0.8,"c":0.85},
{"t":526,"a":0.4,"b":0.4,"c":0.3},{"t":526,"a":0.8,"b":1.0,"c":1.2},{"t":526,"a":1.3,"b":1.8,"c":2.2},{"t":527.5,"a":0.6,"b":0.7,"c":0.75},{"t":527.5,"a":1.05,"b":1.4,"c":1.7},
{"t":529,"a":0.5,"b":0.5,"c":0.4},{"t":529,"a":1.2,"b":1.5,"c":1.8},{"t":529,"a":2.0,"b":2.8,"c":3.2},{"t":529,"a":1.6,"b":2.2,"c":2.6},{"t":530,"a":0.85,"b":1.0,"c":1.1},{"t":530,"a":1.6,"b":2.15,"c":2.5},
{"t":531,"a":0.6,"b":0.6,"c":0.5},{"t":531,"a":1.5,"b":2.0,"c":2.5},{"t":531,"a":2.8,"b":4.5,"c":4.8},{"t":531,"a":2.2,"b":3.5,"c":3.8},{"t":532.5,"a":1.05,"b":1.3,"c":1.5},{"t":532.5,"a":2.15,"b":3.25,"c":3.65},
{"t":534,"a":0.5,"b":0.5,"c":0.35},{"t":534,"a":1.0,"b":1.2,"c":1.2},{"t":534,"a":1.8,"b":2.2,"c":2.5},{"t":535.5,"a":0.75,"b":0.85,"c":0.78},{"t":535.5,"a":1.4,"b":1.7,"c":1.85},
{"t":537,"a":0.4,"b":0.35,"c":0.2},{"t":537,"a":0.7,"b":0.6,"c":0.6},{"t":537,"a":1.1,"b":1.0,"c":1.45},{"t":538.5,"a":0.55,"b":0.48,"c":0.4},{"t":538.5,"a":0.9,"b":0.8,"c":1.03},
{"t":540,"a":0.35,"b":0.3,"c":0.15},{"t":540,"a":0.55,"b":0.5,"c":0.5},{"t":540,"a":0.8,"b":0.8,"c":1.2},{"t":541.5,"a":0.45,"b":0.4,"c":0.33},{"t":541.5,"a":0.68,"b":0.65,"c":0.85},
{"t":543,"a":0.35,"b":0.3,"c":0.15},{"t":543,"a":0.5,"b":0.45,"c":0.45},{"t":543,"a":0.75,"b":0.7,"c":1.0},{"t":544.5,"a":0.43,"b":0.38,"c":0.3},{"t":544.5,"a":0.63,"b":0.58,"c":0.73},
{"t":546,"a":0.35,"b":0.3,"c":0.15},{"t":546,"a":0.5,"b":0.45,"c":0.5},{"t":546,"a":0.75,"b":0.7,"c":1.1},{"t":547.5,"a":0.43,"b":0.38,"c":0.33},{"t":547.5,"a":0.63,"b":0.58,"c":0.8},
{"t":549,"a":0.35,"b":0.3,"c":0.15},{"t":549,"a":0.5,"b":0.48,"c":0.55},{"t":549,"a":0.8,"b":0.75,"c":1.25},{"t":551,"a":0.43,"b":0.39,"c":0.35},{"t":551,"a":0.65,"b":0.62,"c":0.9},
{"t":553,"a":0.35,"b":0.3,"c":0.15},{"t":553,"a":0.5,"b":0.45,"c":0.55},{"t":553,"a":0.8,"b":0.7,"c":1.35},{"t":554.5,"a":0.43,"b":0.38,"c":0.35},{"t":554.5,"a":0.65,"b":0.58,"c":0.95},
{"t":556,"a":0.32,"b":0.28,"c":0.15},{"t":556,"a":0.48,"b":0.42,"c":0.5},{"t":556,"a":0.7,"b":0.65,"c":1.1},{"t":557.5,"a":0.4,"b":0.35,"c":0.33},{"t":557.5,"a":0.59,"b":0.54,"c":0.8},
{"t":559,"a":0.3,"b":0.27,"c":0.12},{"t":559,"a":0.45,"b":0.4,"c":0.45},{"t":559,"a":0.65,"b":0.6,"c":0.9},{"t":560.5,"a":0.38,"b":0.34,"c":0.29},{"t":560.5,"a":0.55,"b":0.5,"c":0.68},
{"t":562,"a":0.3,"b":0.25,"c":0.1},{"t":562,"a":0.42,"b":0.35,"c":0.35},{"t":562,"a":0.6,"b":0.5,"c":0.6},{"t":564,"a":0.36,"b":0.3,"c":0.23},{"t":564,"a":0.51,"b":0.43,"c":0.48},
{"t":566,"a":0.3,"b":0.25,"c":0.1},{"t":566,"a":0.4,"b":0.35,"c":0.25},{"t":566,"a":0.55,"b":0.45,"c":0.4},{"t":568,"a":0.35,"b":0.3,"c":0.18},{"t":568,"a":0.48,"b":0.4,"c":0.33},
{"t":570,"a":0.35,"b":0.3,"c":0.12},{"t":570,"a":0.5,"b":0.4,"c":0.35},{"t":570,"a":0.7,"b":0.6,"c":0.6},{"t":572,"a":0.43,"b":0.35,"c":0.24},{"t":572,"a":0.6,"b":0.5,"c":0.48},
{"t":574,"a":0.4,"b":0.35,"c":0.15},{"t":574,"a":0.6,"b":0.5,"c":0.4},{"t":574,"a":0.8,"b":0.7,"c":0.7},{"t":575.5,"a":0.5,"b":0.43,"c":0.28},{"t":575.5,"a":0.7,"b":0.6,"c":0.55},
{"t":577,"a":0.45,"b":0.35,"c":0.15},{"t":577,"a":0.65,"b":0.5,"c":0.45},{"t":577,"a":0.87,"b":0.7,"c":0.75},{"t":578.5,"a":0.55,"b":0.43,"c":0.3},{"t":578.5,"a":0.76,"b":0.6,"c":0.6},
{"t":580,"a":0.4,"b":0.32,"c":0.15},{"t":580,"a":0.55,"b":0.45,"c":0.4},{"t":580,"a":0.75,"b":0.6,"c":0.7},{"t":581.5,"a":0.48,"b":0.39,"c":0.28},{"t":581.5,"a":0.65,"b":0.53,"c":0.55},
{"t":583,"a":0.35,"b":0.3,"c":0.15},{"t":583,"a":0.5,"b":0.45,"c":0.45},{"t":583,"a":0.65,"b":0.65,"c":0.8},{"t":584.5,"a":0.43,"b":0.38,"c":0.3},{"t":584.5,"a":0.58,"b":0.55,"c":0.63},
{"t":586,"a":0.35,"b":0.3,"c":0.15},{"t":586,"a":0.5,"b":0.5,"c":0.5},{"t":586,"a":0.7,"b":0.8,"c":0.9},{"t":587.5,"a":0.43,"b":0.4,"c":0.33},{"t":587.5,"a":0.6,"b":0.65,"c":0.7},
{"t":589,"a":0.35,"b":0.32,"c":0.2},{"t":589,"a":0.55,"b":0.6,"c":0.6},{"t":589,"a":0.8,"b":1.0,"c":1.1},{"t":591,"a":0.45,"b":0.46,"c":0.4},{"t":591,"a":0.68,"b":0.8,"c":0.85},
{"t":593,"a":0.38,"b":0.35,"c":0.25},{"t":593,"a":0.6,"b":0.7,"c":0.7},{"t":593,"a":0.9,"b":1.2,"c":1.3},{"t":595,"a":0.49,"b":0.53,"c":0.48},{"t":595,"a":0.75,"b":0.95,"c":1.0},
{"t":597,"a":0.4,"b":0.38,"c":0.3},{"t":597,"a":0.65,"b":0.8,"c":0.8},{"t":597,"a":1.0,"b":1.4,"c":1.45},{"t":599,"a":0.53,"b":0.59,"c":0.55},{"t":599,"a":0.83,"b":1.1,"c":1.13},
{"t":601,"a":0.4,"b":0.38,"c":0.3},{"t":601,"a":0.65,"b":0.8,"c":0.85},{"t":601,"a":1.0,"b":1.5,"c":1.5},{"t":603,"a":0.53,"b":0.59,"c":0.58},{"t":603,"a":0.83,"b":1.15,"c":1.18},
{"t":605,"a":0.38,"b":0.35,"c":0.3},{"t":605,"a":0.6,"b":0.65,"c":0.7},{"t":605,"a":0.9,"b":1.1,"c":1.1},{"t":607,"a":0.49,"b":0.5,"c":0.5},{"t":607,"a":0.75,"b":0.88,"c":0.9},
{"t":609,"a":0.36,"b":0.33,"c":0.3},{"t":609,"a":0.5,"b":0.5,"c":0.55},{"t":609,"a":0.75,"b":0.8,"c":0.85},{"t":611,"a":0.43,"b":0.42,"c":0.43},{"t":611,"a":0.63,"b":0.65,"c":0.7},
{"t":613,"a":0.35,"b":0.32,"c":0.3},{"t":613,"a":0.48,"b":0.45,"c":0.5},{"t":613,"a":0.65,"b":0.65,"c":0.75},{"t":615,"a":0.42,"b":0.39,"c":0.4},{"t":615,"a":0.57,"b":0.55,"c":0.63},
{"t":617,"a":0.35,"b":0.32,"c":0.3},{"t":617,"a":0.45,"b":0.42,"c":0.5},{"t":617,"a":0.6,"b":0.6,"c":0.75},{"t":619,"a":0.4,"b":0.37,"c":0.4},{"t":619,"a":0.53,"b":0.51,"c":0.63},
{"t":621,"a":0.35,"b":0.32,"c":0.3},{"t":621,"a":0.45,"b":0.42,"c":0.5},{"t":621,"a":0.6,"b":0.6,"c":0.75},{"t":623,"a":0.4,"b":0.37,"c":0.4},{"t":623,"a":0.53,"b":0.51,"c":0.63},
{"t":625,"a":0.33,"b":0.3,"c":0.28},{"t":625,"a":0.43,"b":0.4,"c":0.5},{"t":625,"a":0.58,"b":0.58,"c":0.72},{"t":627,"a":0.38,"b":0.35,"c":0.39},{"t":627,"a":0.51,"b":0.49,"c":0.61},
{"t":629,"a":0.33,"b":0.3,"c":0.28},{"t":629,"a":0.43,"b":0.4,"c":0.5},{"t":629,"a":0.58,"b":0.6,"c":0.75},{"t":631,"a":0.38,"b":0.35,"c":0.39},{"t":631,"a":0.51,"b":0.5,"c":0.63},
{"t":633,"a":0.33,"b":0.3,"c":0.28},{"t":633,"a":0.45,"b":0.45,"c":0.55},{"t":633,"a":0.65,"b":0.7,"c":0.85},{"t":635,"a":0.39,"b":0.38,"c":0.42},{"t":635,"a":0.55,"b":0.58,"c":0.7},
{"t":637,"a":0.35,"b":0.33,"c":0.3},{"t":637,"a":0.55,"b":0.6,"c":0.65},{"t":637,"a":0.8,"b":1.0,"c":1.1},{"t":638.5,"a":0.45,"b":0.47,"c":0.48},{"t":638.5,"a":0.68,"b":0.8,"c":0.88},
{"t":640,"a":0.4,"b":0.4,"c":0.35},{"t":640,"a":0.7,"b":0.8,"c":0.9},{"t":640,"a":1.1,"b":1.4,"c":1.6},{"t":641.5,"a":0.55,"b":0.6,"c":0.63},{"t":641.5,"a":0.9,"b":1.1,"c":1.25},
{"t":643,"a":0.45,"b":0.45,"c":0.4},{"t":643,"a":0.9,"b":1.1,"c":1.2},{"t":643,"a":1.5,"b":2.0,"c":2.2},{"t":645,"a":0.68,"b":0.78,"c":0.8},{"t":645,"a":1.2,"b":1.55,"c":1.7},
{"t":647,"a":0.5,"b":0.5,"c":0.45},{"t":647,"a":1.1,"b":1.3,"c":1.5},{"t":647,"a":2.0,"b":2.5,"c":2.7},{"t":647,"a":1.6,"b":2.0,"c":2.3},{"t":648.5,"a":0.8,"b":0.9,"c":0.98},{"t":648.5,"a":1.55,"b":1.9,"c":2.1},
{"t":650,"a":0.45,"b":0.45,"c":0.4},{"t":650,"a":0.8,"b":0.9,"c":1.0},{"t":650,"a":1.4,"b":1.6,"c":1.8},{"t":651.5,"a":0.63,"b":0.68,"c":0.7},{"t":651.5,"a":1.1,"b":1.25,"c":1.4},
{"t":653,"a":0.4,"b":0.4,"c":0.35},{"t":653,"a":0.6,"b":0.6,"c":0.7},{"t":653,"a":0.9,"b":1.0,"c":1.1},{"t":654.5,"a":0.5,"b":0.5,"c":0.53},{"t":654.5,"a":0.75,"b":0.8,"c":0.9},
{"t":656,"a":0.4,"b":0.38,"c":0.35},{"t":656,"a":0.6,"b":0.6,"c":0.7},{"t":656,"a":0.85,"b":0.9,"c":0.95},{"t":657.5,"a":0.5,"b":0.49,"c":0.53},{"t":657.5,"a":0.73,"b":0.75,"c":0.83},
{"t":659,"a":0.45,"b":0.42,"c":0.4},{"t":659,"a":0.8,"b":0.9,"c":1.0},{"t":659,"a":1.3,"b":1.5,"c":1.7},{"t":660.5,"a":0.63,"b":0.66,"c":0.7},{"t":660.5,"a":1.05,"b":1.2,"c":1.35},
{"t":662,"a":0.5,"b":0.5,"c":0.45},{"t":662,"a":1.1,"b":1.3,"c":1.5},{"t":662,"a":2.2,"b":2.6,"c":2.8},{"t":662,"a":1.7,"b":2.0,"c":2.3},{"t":663.5,"a":0.8,"b":0.9,"c":0.98},{"t":663.5,"a":1.65,"b":1.95,"c":2.15},
{"t":665,"a":0.45,"b":0.45,"c":0.4},{"t":665,"a":0.9,"b":1.0,"c":1.1},{"t":665,"a":1.5,"b":1.7,"c":1.9},{"t":666.5,"a":0.68,"b":0.73,"c":0.75},{"t":666.5,"a":1.2,"b":1.35,"c":1.5},
{"t":668,"a":0.4,"b":0.38,"c":0.35},{"t":668,"a":0.6,"b":0.6,"c":0.65},{"t":668,"a":0.9,"b":0.9,"c":1.0},{"t":669.5,"a":0.5,"b":0.49,"c":0.5},{"t":669.5,"a":0.75,"b":0.75,"c":0.83},
{"t":671,"a":0.35,"b":0.33,"c":0.3},{"t":671,"a":0.5,"b":0.48,"c":0.5},{"t":671,"a":0.7,"b":0.65,"c":0.75},{"t":673,"a":0.43,"b":0.41,"c":0.4},{"t":673,"a":0.6,"b":0.57,"c":0.63},
{"t":675,"a":0.3,"b":0.28,"c":0.25},{"t":675,"a":0.42,"b":0.4,"c":0.42},{"t":675,"a":0.55,"b":0.52,"c":0.6},{"t":677.5,"a":0.36,"b":0.34,"c":0.34},{"t":677.5,"a":0.49,"b":0.46,"c":0.51},
{"t":680,"a":0.25,"b":0.22,"c":0.2},{"t":680,"a":0.35,"b":0.32,"c":0.35},{"t":680,"a":0.45,"b":0.42,"c":0.5},{"t":682.5,"a":0.3,"b":0.27,"c":0.28},{"t":682.5,"a":0.4,"b":0.37,"c":0.43},
{"t":685,"a":0.2,"b":0.18,"c":0.16},{"t":685,"a":0.28,"b":0.26,"c":0.28},{"t":685,"a":0.36,"b":0.34,"c":0.4},{"t":687.5,"a":0.24,"b":0.22,"c":0.22},{"t":687.5,"a":0.32,"b":0.3,"c":0.34},
{"t":690,"a":0.16,"b":0.15,"c":0.13},{"t":690,"a":0.22,"b":0.2,"c":0.22},{"t":690,"a":0.28,"b":0.27,"c":0.32},{"t":692.5,"a":0.19,"b":0.18,"c":0.18},{"t":692.5,"a":0.25,"b":0.24,"c":0.27},
{"t":695,"a":0.12,"b":0.11,"c":0.1},{"t":695,"a":0.17,"b":0.16,"c":0.18},{"t":695,"a":0.22,"b":0.21,"c":0.25},{"t":697.5,"a":0.15,"b":0.14,"c":0.14},{"t":697.5,"a":0.2,"b":0.19,"c":0.22},
{"t":700,"a":0.09,"b":0.09,"c":0.08},{"t":700,"a":0.13,"b":0.12,"c":0.14},{"t":700,"a":0.17,"b":0.16,"c":0.19},
{"t":705,"a":0.07,"b":0.07,"c":0.06},{"t":705,"a":0.1,"b":0.1,"c":0.11},{"t":705,"a":0.13,"b":0.13,"c":0.15},
{"t":710,"a":0.05,"b":0.05,"c":0.05},{"t":710,"a":0.08,"b":0.08,"c":0.1},
{"t":715,"a":0.04,"b":0.04,"c":0.04},{"t":715,"a":0.06,"b":0.06,"c":0.07},
{"t":720,"a":0.03,"b":0.03,"c":0.03},{"t":720,"a":0.04,"b":0.04,"c":0.05},
{"t":725,"a":0.02,"b":0.02,"c":0.02},{"t":725,"a":0.03,"b":0.03,"c":0.04},
{"t":730,"a":0.02,"b":0.02,"c":0.03},{"t":736,"a":0.02,"b":0.02,"c":0.03},{"t":742,"a":0.02,"b":0.02,"c":0.02},{"t":748,"a":0.02,"b":0.02,"c":0.02},{"t":754,"a":0.02,"b":0.02,"c":0.02},{"t":760,"a":0.02,"b":0.02,"c":0.02},{"t":766,"a":0.02,"b":0.02,"c":0.02},{"t":772,"a":0.02,"b":0.02,"c":0.02},{"t":778,"a":0.02,"b":0.02,"c":0.02},{"t":784,"a":0.02,"b":0.02,"c":0.02},{"t":790,"a":0.02,"b":0.02,"c":0.02},{"t":796,"a":0.02,"b":0.02,"c":0.02},{"t":802,"a":0.02,"b":0.02,"c":0.03},{"t":807,"a":0.03,"b":0.03,"c":0.04},
{"t":811,"a":0.05,"b":0.06,"c":0.12},{"t":811,"a":0.08,"b":0.1,"c":0.35},
{"t":813,"a":0.08,"b":0.1,"c":0.22},{"t":813,"a":0.1,"b":0.15,"c":0.5},{"t":813,"a":0.12,"b":0.2,"c":0.75},
{"t":815,"a":0.1,"b":0.15,"c":0.28},{"t":815,"a":0.15,"b":0.3,"c":0.65},{"t":815,"a":0.2,"b":0.4,"c":1.1},
{"t":817,"a":0.15,"b":0.2,"c":0.32},{"t":817,"a":0.25,"b":0.45,"c":0.75},{"t":817,"a":0.3,"b":0.6,"c":1.3},{"t":817,"a":0.2,"b":0.5,"c":2.0},
{"t":819,"a":0.2,"b":0.3,"c":0.38},{"t":819,"a":0.3,"b":0.6,"c":0.85},{"t":819,"a":0.4,"b":0.9,"c":1.5},{"t":819,"a":0.3,"b":0.7,"c":2.4},{"t":819,"a":0.25,"b":0.5,"c":3.2},
{"t":821,"a":0.25,"b":0.4,"c":0.42},{"t":821,"a":0.4,"b":0.8,"c":0.95},{"t":821,"a":0.6,"b":1.1,"c":1.6},{"t":821,"a":0.5,"b":1.4,"c":2.4},{"t":821,"a":0.4,"b":1.0,"c":3.2},{"t":821,"a":0.3,"b":0.8,"c":4.0},
{"t":823,"a":0.3,"b":0.5,"c":0.48},{"t":823,"a":0.5,"b":0.9,"c":1.05},{"t":823,"a":0.7,"b":1.3,"c":1.8},{"t":823,"a":0.9,"b":1.6,"c":2.6},{"t":823,"a":0.6,"b":1.2,"c":3.5},{"t":823,"a":0.5,"b":1.0,"c":4.4},{"t":823,"a":0.4,"b":0.8,"c":5.3},
{"t":825,"a":0.35,"b":0.6,"c":0.5},{"t":825,"a":0.6,"b":1.0,"c":1.15},{"t":825,"a":0.9,"b":1.4,"c":1.9},{"t":825,"a":1.2,"b":1.8,"c":2.7},{"t":825,"a":1.0,"b":2.2,"c":3.6},{"t":825,"a":0.8,"b":2.0,"c":4.5},{"t":825,"a":0.6,"b":1.5,"c":5.4},{"t":825,"a":0.5,"b":1.2,"c":6.3},
{"t":827,"a":0.4,"b":0.7,"c":0.55},{"t":827,"a":0.7,"b":1.2,"c":1.25},{"t":827,"a":1.0,"b":1.6,"c":2.1},{"t":827,"a":1.4,"b":2.2,"c":2.9},{"t":827,"a":1.8,"b":2.8,"c":3.8},{"t":827,"a":1.4,"b":3.4,"c":4.6},{"t":827,"a":1.0,"b":3.0,"c":5.4},{"t":827,"a":0.8,"b":2.4,"c":6.3},{"t":827,"a":0.6,"b":1.8,"c":7.1},
{"t":829,"a":0.5,"b":0.8,"c":0.6},{"t":829,"a":0.8,"b":1.3,"c":1.35},{"t":829,"a":1.2,"b":1.8,"c":2.2},{"t":829,"a":1.6,"b":2.6,"c":3.0},{"t":829,"a":2.2,"b":3.4,"c":3.9},{"t":829,"a":2.6,"b":4.2,"c":4.7},{"t":829,"a":2.0,"b":4.8,"c":5.5},{"t":829,"a":1.6,"b":4.0,"c":6.3},{"t":829,"a":1.2,"b":3.2,"c":7.1},{"t":829,"a":0.9,"b":2.4,"c":7.8},
{"t":831,"a":0.6,"b":0.9,"c":0.65},{"t":831,"a":0.9,"b":1.4,"c":1.45},{"t":831,"a":1.3,"b":2.0,"c":2.3},{"t":831,"a":1.8,"b":2.8,"c":3.1},{"t":831,"a":2.4,"b":3.6,"c":3.9},{"t":831,"a":3.0,"b":4.6,"c":4.7},{"t":831,"a":3.4,"b":5.4,"c":5.5},{"t":831,"a":2.8,"b":6.0,"c":6.3},{"t":831,"a":2.2,"b":5.0,"c":7.1},{"t":831,"a":1.6,"b":4.0,"c":7.8},{"t":831,"a":1.2,"b":3.0,"c":8.3},
{"t":833,"a":0.7,"b":1.0,"c":0.75},{"t":833,"a":1.0,"b":1.5,"c":1.55},{"t":833,"a":1.5,"b":2.2,"c":2.35},{"t":833,"a":2.0,"b":3.0,"c":3.15},{"t":833,"a":2.6,"b":4.0,"c":3.95},{"t":833,"a":3.2,"b":5.0,"c":4.75},{"t":833,"a":3.8,"b":6.0,"c":5.55},{"t":833,"a":4.4,"b":6.6,"c":6.35},{"t":833,"a":3.6,"b":7.0,"c":7.15},{"t":833,"a":2.8,"b":6.0,"c":7.9},{"t":833,"a":2.0,"b":5.0,"c":8.3},
{"t":835,"a":0.8,"b":1.2,"c":0.85},{"t":835,"a":1.2,"b":1.8,"c":1.65},{"t":835,"a":1.7,"b":2.5,"c":2.45},{"t":835,"a":2.3,"b":3.4,"c":3.25},{"t":835,"a":3.0,"b":4.3,"c":4.05},{"t":835,"a":3.6,"b":5.2,"c":4.85},{"t":835,"a":4.2,"b":6.0,"c":5.65},{"t":835,"a":4.8,"b":6.8,"c":6.45},{"t":835,"a":5.4,"b":7.4,"c":7.25},{"t":835,"a":4.6,"b":7.8,"c":7.9},{"t":835,"a":3.6,"b":7.0,"c":8.3},
{"t":837,"a":1.0,"b":1.5,"c":1.0},{"t":837,"a":1.4,"b":2.0,"c":1.8},{"t":837,"a":2.0,"b":2.8,"c":2.6},{"t":837,"a":2.6,"b":3.6,"c":3.4},{"t":837,"a":3.2,"b":4.5,"c":4.2},{"t":837,"a":3.9,"b":5.4,"c":5.0},{"t":837,"a":4.6,"b":6.2,"c":5.8},{"t":837,"a":5.2,"b":7.0,"c":6.6},{"t":837,"a":5.8,"b":7.6,"c":7.4},{"t":837,"a":6.4,"b":8.0,"c":8.2},{"t":837,"a":7.6,"b":9.45,"c":9.0},{"t":837,"a":6.0,"b":9.3,"c":9.6},{"t":837,"a":4.5,"b":12.17,"c":10.4},{"t":837,"a":3.5,"b":14.6,"c":10.6},{"t":837,"a":2.5,"b":4.0,"c":13.23},{"t":837,"a":3.0,"b":4.5,"c":14.17},{"t":837,"a":2.2,"b":3.0,"c":15.9},{"t":837,"a":1.5,"b":2.5,"c":16.77},
{"t":839,"a":1.2,"b":1.8,"c":1.2},{"t":839,"a":1.8,"b":2.4,"c":2.0},{"t":839,"a":2.4,"b":3.2,"c":2.8},{"t":839,"a":3.0,"b":4.0,"c":3.6},{"t":839,"a":3.6,"b":4.8,"c":4.4},{"t":839,"a":4.3,"b":5.6,"c":5.2},{"t":839,"a":5.0,"b":6.4,"c":6.0},{"t":839,"a":5.6,"b":7.0,"c":6.8},{"t":839,"a":6.2,"b":7.6,"c":7.5},{"t":839,"a":6.8,"b":8.0,"c":8.2},
{"t":841,"a":1.5,"b":2.0,"c":1.6},{"t":841,"a":2.2,"b":2.8,"c":2.4},{"t":841,"a":2.8,"b":3.6,"c":3.2},{"t":841,"a":3.4,"b":4.4,"c":4.0},{"t":841,"a":4.0,"b":5.2,"c":4.8},{"t":841,"a":4.6,"b":6.0,"c":5.6},{"t":841,"a":5.3,"b":6.6,"c":6.4},{"t":841,"a":6.0,"b":7.2,"c":7.1},{"t":841,"a":6.8,"b":7.8,"c":7.8},{"t":841,"a":7.4,"b":8.2,"c":8.3},
{"t":843,"a":2.0,"b":2.4,"c":2.2},{"t":843,"a":2.6,"b":3.2,"c":3.0},{"t":843,"a":3.2,"b":4.0,"c":3.8},{"t":843,"a":3.8,"b":4.8,"c":4.6},{"t":843,"a":4.5,"b":5.5,"c":5.4},{"t":843,"a":5.2,"b":6.2,"c":6.2},{"t":843,"a":5.9,"b":6.8,"c":6.9},{"t":843,"a":6.6,"b":7.4,"c":7.6},{"t":843,"a":7.4,"b":8.0,"c":8.1},
{"t":845,"a":2.3,"b":2.5,"c":2.5},{"t":845,"a":2.9,"b":3.3,"c":3.3},{"t":845,"a":3.5,"b":4.1,"c":4.1},{"t":845,"a":4.1,"b":4.9,"c":4.9},{"t":845,"a":4.7,"b":5.6,"c":5.7},{"t":845,"a":5.4,"b":6.3,"c":6.5},{"t":845,"a":6.1,"b":6.9,"c":7.2},{"t":845,"a":6.9,"b":7.5,"c":7.9},
{"t":847,"a":2.3,"b":2.5,"c":2.6},{"t":847,"a":2.9,"b":3.3,"c":3.4},{"t":847,"a":3.5,"b":4.1,"c":4.2},{"t":847,"a":4.1,"b":4.9,"c":5.0},{"t":847,"a":4.7,"b":5.6,"c":5.8},{"t":847,"a":5.4,"b":6.2,"c":6.5},{"t":847,"a":6.1,"b":6.8,"c":7.2},{"t":847,"a":6.8,"b":7.3,"c":7.8},
{"t":849,"a":2.3,"b":2.5,"c":2.5},{"t":849,"a":2.9,"b":3.3,"c":3.3},{"t":849,"a":3.5,"b":4.1,"c":4.1},{"t":849,"a":4.1,"b":4.8,"c":4.9},{"t":849,"a":4.7,"b":5.5,"c":5.7},{"t":849,"a":5.3,"b":6.1,"c":6.4},{"t":849,"a":6.0,"b":6.7,"c":7.0},{"t":849,"a":6.6,"b":7.1,"c":7.5},
{"t":851,"a":2.1,"b":2.3,"c":2.3},{"t":851,"a":2.7,"b":3.1,"c":3.1},{"t":851,"a":3.3,"b":3.9,"c":3.9},{"t":851,"a":3.9,"b":4.5,"c":4.7},{"t":851,"a":4.5,"b":5.2,"c":5.4},{"t":851,"a":5.1,"b":5.8,"c":6.1},{"t":851,"a":5.6,"b":6.3,"c":6.8},
{"t":853,"a":1.9,"b":2.1,"c":2.1},{"t":853,"a":2.5,"b":2.9,"c":2.9},{"t":853,"a":3.1,"b":3.6,"c":3.7},{"t":853,"a":3.7,"b":4.2,"c":4.4},{"t":853,"a":4.3,"b":4.9,"c":5.1},{"t":853,"a":4.9,"b":5.5,"c":5.8},{"t":853,"a":5.4,"b":5.9,"c":6.3},
{"t":855,"a":1.6,"b":1.8,"c":1.7},{"t":855,"a":2.2,"b":2.5,"c":2.5},{"t":855,"a":2.8,"b":3.2,"c":3.3},{"t":855,"a":3.4,"b":3.8,"c":4.0},{"t":855,"a":4.0,"b":4.5,"c":4.6},{"t":855,"a":4.5,"b":5.0,"c":5.3},{"t":855,"a":5.0,"b":5.5,"c":5.8},
{"t":857,"a":1.3,"b":1.4,"c":1.3},{"t":857,"a":1.9,"b":2.1,"c":2.1},{"t":857,"a":2.5,"b":2.8,"c":2.9},{"t":857,"a":3.1,"b":3.4,"c":3.6},{"t":857,"a":3.7,"b":4.0,"c":4.2},{"t":857,"a":4.2,"b":4.5,"c":4.8},{"t":857,"a":4.6,"b":4.9,"c":5.3},
{"t":859,"a":1.0,"b":1.1,"c":0.95},{"t":859,"a":1.6,"b":1.8,"c":1.7},{"t":859,"a":2.2,"b":2.4,"c":2.5},{"t":859,"a":2.8,"b":3.0,"c":3.1},{"t":859,"a":3.3,"b":3.5,"c":3.7},{"t":859,"a":3.8,"b":4.0,"c":4.3},{"t":859,"a":4.2,"b":4.4,"c":4.7},
{"t":861,"a":0.85,"b":0.85,"c":0.65},{"t":861,"a":1.3,"b":1.4,"c":1.3},{"t":861,"a":1.9,"b":2.0,"c":2.0},{"t":861,"a":2.4,"b":2.5,"c":2.6},{"t":861,"a":2.9,"b":3.0,"c":3.2},{"t":861,"a":3.3,"b":3.5,"c":3.6},
{"t":863,"a":0.65,"b":0.65,"c":0.48},{"t":863,"a":1.0,"b":1.0,"c":0.95},{"t":863,"a":1.5,"b":1.5,"c":1.5},{"t":863,"a":2.0,"b":2.0,"c":2.1},{"t":863,"a":2.4,"b":2.4,"c":2.6},{"t":863,"a":2.8,"b":2.8,"c":3.0},
{"t":865,"a":0.5,"b":0.5,"c":0.33},{"t":865,"a":0.85,"b":0.85,"c":0.75},{"t":865,"a":1.2,"b":1.2,"c":1.1},{"t":865,"a":1.6,"b":1.6,"c":1.6},{"t":865,"a":2.0,"b":1.9,"c":2.0},{"t":865,"a":2.3,"b":2.2,"c":2.3},
{"t":867,"a":0.4,"b":0.4,"c":0.24},{"t":867,"a":0.7,"b":0.7,"c":0.55},{"t":867,"a":1.0,"b":1.0,"c":0.85},{"t":867,"a":1.3,"b":1.2,"c":1.2},{"t":867,"a":1.6,"b":1.5,"c":1.5},
{"t":869,"a":0.35,"b":0.35,"c":0.2},{"t":869,"a":0.6,"b":0.6,"c":0.42},{"t":869,"a":0.9,"b":0.85,"c":0.65},{"t":869,"a":1.2,"b":1.1,"c":0.95},
{"t":871,"a":0.38,"b":0.38,"c":0.17},{"t":871,"a":0.65,"b":0.6,"c":0.35},{"t":871,"a":0.95,"b":0.85,"c":0.55},{"t":871,"a":1.3,"b":1.1,"c":0.75},
{"t":873,"a":0.5,"b":0.45,"c":0.15},{"t":873,"a":1.0,"b":0.9,"c":0.35},{"t":873,"a":1.6,"b":1.4,"c":0.7},{"t":874.5,"a":0.75,"b":0.68,"c":0.25},{"t":874.5,"a":1.3,"b":1.15,"c":0.53},
{"t":876,"a":0.55,"b":0.5,"c":0.15},{"t":876,"a":1.1,"b":1.0,"c":0.35},{"t":876,"a":1.84,"b":1.7,"c":0.8},{"t":877.5,"a":0.83,"b":0.75,"c":0.25},{"t":877.5,"a":1.47,"b":1.35,"c":0.58},
{"t":879,"a":0.5,"b":0.45,"c":0.15},{"t":879,"a":1.0,"b":0.9,"c":0.35},{"t":879,"a":1.5,"b":1.3,"c":0.75},{"t":880.5,"a":0.75,"b":0.68,"c":0.25},{"t":880.5,"a":1.25,"b":1.1,"c":0.55},
{"t":882,"a":0.4,"b":0.35,"c":0.15},{"t":882,"a":0.7,"b":0.6,"c":0.35},{"t":882,"a":1.0,"b":0.9,"c":0.7},{"t":883.5,"a":0.55,"b":0.48,"c":0.25},{"t":883.5,"a":0.85,"b":0.75,"c":0.53},
{"t":885,"a":0.35,"b":0.3,"c":0.15},{"t":885,"a":0.6,"b":0.6,"c":0.5},{"t":885,"a":0.9,"b":1.0,"c":1.1},{"t":886.5,"a":0.48,"b":0.45,"c":0.33},{"t":886.5,"a":0.75,"b":0.8,"c":0.8},
{"t":888,"a":0.4,"b":0.4,"c":0.25},{"t":888,"a":0.8,"b":0.9,"c":1.0},{"t":888,"a":1.2,"b":1.6,"c":2.0},{"t":889.5,"a":0.6,"b":0.65,"c":0.63},{"t":889.5,"a":1.0,"b":1.25,"c":1.5},
{"t":891,"a":0.45,"b":0.45,"c":0.35},{"t":891,"a":1.1,"b":1.3,"c":1.5},{"t":891,"a":1.8,"b":2.4,"c":2.8},{"t":892.5,"a":0.78,"b":0.88,"c":0.93},{"t":892.5,"a":1.45,"b":1.85,"c":2.15},
{"t":894,"a":0.55,"b":0.55,"c":0.45},{"t":894,"a":1.4,"b":1.8,"c":2.2},{"t":894,"a":2.4,"b":3.6,"c":3.8},{"t":894,"a":1.8,"b":2.8,"c":3.2},{"t":896,"a":0.98,"b":1.18,"c":1.33},{"t":896,"a":1.9,"b":2.7,"c":3.0},
{"t":898,"a":0.6,"b":0.6,"c":0.5},{"t":898,"a":1.5,"b":2.0,"c":2.5},{"t":898,"a":2.6,"b":4.36,"c":4.65},{"t":898,"a":2.0,"b":3.4,"c":3.8},{"t":899.5,"a":1.05,"b":1.3,"c":1.5},{"t":899.5,"a":2.05,"b":3.2,"c":3.6},
{"t":901,"a":0.5,"b":0.5,"c":0.35},{"t":901,"a":1.0,"b":1.2,"c":1.3},{"t":901,"a":1.7,"b":2.2,"c":2.6},{"t":902.5,"a":0.75,"b":0.85,"c":0.83},{"t":902.5,"a":1.35,"b":1.7,"c":1.95},
{"t":904,"a":0.4,"b":0.35,"c":0.2},{"t":904,"a":0.7,"b":0.6,"c":0.6},{"t":904,"a":1.1,"b":1.0,"c":1.4},{"t":905.5,"a":0.55,"b":0.48,"c":0.4},{"t":905.5,"a":0.9,"b":0.8,"c":1.0},
{"t":907,"a":0.35,"b":0.3,"c":0.15},{"t":907,"a":0.55,"b":0.5,"c":0.5},{"t":907,"a":0.8,"b":0.8,"c":1.15},{"t":908.5,"a":0.45,"b":0.4,"c":0.33},{"t":908.5,"a":0.68,"b":0.65,"c":0.83},
{"t":910,"a":0.35,"b":0.3,"c":0.15},{"t":910,"a":0.5,"b":0.45,"c":0.5},{"t":910,"a":0.75,"b":0.7,"c":1.1},{"t":912,"a":0.43,"b":0.38,"c":0.33},{"t":912,"a":0.63,"b":0.58,"c":0.8},
{"t":914,"a":0.35,"b":0.3,"c":0.15},{"t":914,"a":0.5,"b":0.48,"c":0.55},{"t":914,"a":0.8,"b":0.75,"c":1.26},{"t":916,"a":0.43,"b":0.39,"c":0.35},{"t":916,"a":0.65,"b":0.62,"c":0.9},
{"t":918,"a":0.35,"b":0.3,"c":0.15},{"t":918,"a":0.5,"b":0.45,"c":0.55},{"t":918,"a":0.8,"b":0.7,"c":1.2},{"t":919.5,"a":0.43,"b":0.38,"c":0.35},{"t":919.5,"a":0.65,"b":0.58,"c":0.88},
{"t":921,"a":0.32,"b":0.28,"c":0.15},{"t":921,"a":0.48,"b":0.42,"c":0.5},{"t":921,"a":0.7,"b":0.65,"c":1.0},{"t":922.5,"a":0.4,"b":0.35,"c":0.33},{"t":922.5,"a":0.59,"b":0.54,"c":0.75},
{"t":924,"a":0.3,"b":0.27,"c":0.12},{"t":924,"a":0.45,"b":0.4,"c":0.42},{"t":924,"a":0.65,"b":0.6,"c":0.8},{"t":925.5,"a":0.38,"b":0.34,"c":0.27},{"t":925.5,"a":0.55,"b":0.5,"c":0.61},
{"t":927,"a":0.3,"b":0.25,"c":0.1},{"t":927,"a":0.42,"b":0.35,"c":0.3},{"t":927,"a":0.6,"b":0.5,"c":0.5},{"t":929,"a":0.36,"b":0.3,"c":0.2},{"t":929,"a":0.51,"b":0.43,"c":0.4},
{"t":931,"a":0.3,"b":0.25,"c":0.1},{"t":931,"a":0.4,"b":0.35,"c":0.25},{"t":931,"a":0.55,"b":0.45,"c":0.45},{"t":933,"a":0.35,"b":0.3,"c":0.18},{"t":933,"a":0.48,"b":0.4,"c":0.35},
{"t":935,"a":0.35,"b":0.3,"c":0.12},{"t":935,"a":0.5,"b":0.4,"c":0.35},{"t":935,"a":0.7,"b":0.6,"c":0.6},{"t":937,"a":0.43,"b":0.35,"c":0.24},{"t":937,"a":0.6,"b":0.5,"c":0.48},
{"t":939,"a":0.4,"b":0.35,"c":0.15},{"t":939,"a":0.6,"b":0.5,"c":0.4},{"t":939,"a":0.8,"b":0.7,"c":0.7},{"t":941,"a":0.5,"b":0.43,"c":0.28},{"t":941,"a":0.7,"b":0.6,"c":0.55},
{"t":943,"a":0.45,"b":0.35,"c":0.15},{"t":943,"a":0.65,"b":0.5,"c":0.45},{"t":943,"a":0.86,"b":0.7,"c":0.75},{"t":944.5,"a":0.55,"b":0.43,"c":0.3},{"t":944.5,"a":0.76,"b":0.6,"c":0.6},
{"t":946,"a":0.4,"b":0.32,"c":0.15},{"t":946,"a":0.55,"b":0.45,"c":0.4},{"t":946,"a":0.75,"b":0.6,"c":0.7},{"t":947.5,"a":0.48,"b":0.39,"c":0.28},{"t":947.5,"a":0.65,"b":0.53,"c":0.55},
{"t":949,"a":0.35,"b":0.3,"c":0.15},{"t":949,"a":0.5,"b":0.45,"c":0.45},{"t":949,"a":0.65,"b":0.65,"c":0.8},{"t":950.5,"a":0.43,"b":0.38,"c":0.3},{"t":950.5,"a":0.58,"b":0.55,"c":0.63},
{"t":952,"a":0.35,"b":0.3,"c":0.15},{"t":952,"a":0.5,"b":0.5,"c":0.5},{"t":952,"a":0.7,"b":0.8,"c":0.95},{"t":953.5,"a":0.43,"b":0.4,"c":0.33},{"t":953.5,"a":0.6,"b":0.65,"c":0.73},
{"t":955,"a":0.35,"b":0.32,"c":0.2},{"t":955,"a":0.55,"b":0.6,"c":0.6},{"t":955,"a":0.8,"b":1.0,"c":1.1},{"t":957,"a":0.45,"b":0.46,"c":0.4},{"t":957,"a":0.68,"b":0.8,"c":0.85},
{"t":959,"a":0.38,"b":0.35,"c":0.25},{"t":959,"a":0.6,"b":0.7,"c":0.7},{"t":959,"a":0.9,"b":1.2,"c":1.3},{"t":961,"a":0.49,"b":0.53,"c":0.48},{"t":961,"a":0.75,"b":0.95,"c":1.0},
{"t":963,"a":0.4,"b":0.38,"c":0.3},{"t":963,"a":0.65,"b":0.8,"c":0.8},{"t":963,"a":1.0,"b":1.3,"c":1.35},{"t":965,"a":0.53,"b":0.59,"c":0.55},{"t":965,"a":0.83,"b":1.05,"c":1.08},
{"t":967,"a":0.38,"b":0.36,"c":0.3},{"t":967,"a":0.6,"b":0.7,"c":0.75},{"t":967,"a":0.95,"b":1.2,"c":1.2},{"t":969,"a":0.49,"b":0.53,"c":0.53},{"t":969,"a":0.78,"b":0.95,"c":0.98},
{"t":971,"a":0.36,"b":0.33,"c":0.3},{"t":971,"a":0.5,"b":0.5,"c":0.55},{"t":971,"a":0.75,"b":0.8,"c":0.85},{"t":973,"a":0.43,"b":0.42,"c":0.43},{"t":973,"a":0.63,"b":0.65,"c":0.7},
{"t":975,"a":0.35,"b":0.32,"c":0.3},{"t":975,"a":0.48,"b":0.45,"c":0.5},{"t":975,"a":0.65,"b":0.65,"c":0.75},{"t":977,"a":0.42,"b":0.39,"c":0.4},{"t":977,"a":0.57,"b":0.55,"c":0.63},
{"t":979,"a":0.35,"b":0.32,"c":0.3},{"t":979,"a":0.45,"b":0.42,"c":0.5},{"t":979,"a":0.6,"b":0.6,"c":0.75},{"t":981,"a":0.4,"b":0.37,"c":0.4},{"t":981,"a":0.53,"b":0.51,"c":0.63},
{"t":983,"a":0.35,"b":0.32,"c":0.3},{"t":983,"a":0.45,"b":0.42,"c":0.5},{"t":983,"a":0.6,"b":0.6,"c":0.72},{"t":985,"a":0.4,"b":0.37,"c":0.4},{"t":985,"a":0.53,"b":0.51,"c":0.61},
{"t":987,"a":0.33,"b":0.3,"c":0.28},{"t":987,"a":0.43,"b":0.4,"c":0.5},{"t":987,"a":0.58,"b":0.58,"c":0.72},{"t":989,"a":0.38,"b":0.35,"c":0.39},{"t":989,"a":0.51,"b":0.49,"c":0.61},
{"t":991,"a":0.33,"b":0.3,"c":0.28},{"t":991,"a":0.43,"b":0.4,"c":0.5},{"t":991,"a":0.58,"b":0.6,"c":0.75},{"t":993,"a":0.38,"b":0.35,"c":0.39},{"t":993,"a":0.51,"b":0.5,"c":0.63},
{"t":995,"a":0.33,"b":0.3,"c":0.28},{"t":995,"a":0.45,"b":0.45,"c":0.55},{"t":995,"a":0.65,"b":0.7,"c":0.85},{"t":997,"a":0.39,"b":0.38,"c":0.42},{"t":997,"a":0.55,"b":0.58,"c":0.7},
{"t":999,"a":0.35,"b":0.33,"c":0.3},{"t":999,"a":0.55,"b":0.6,"c":0.65},{"t":999,"a":0.8,"b":0.95,"c":1.05},{"t":1001,"a":0.45,"b":0.47,"c":0.48},{"t":1001,"a":0.68,"b":0.78,"c":0.85},
{"t":1003,"a":0.38,"b":0.38,"c":0.33},{"t":1003,"a":0.65,"b":0.75,"c":0.85},{"t":1003,"a":1.0,"b":1.3,"c":1.4},{"t":1004.5,"a":0.52,"b":0.57,"c":0.59},{"t":1004.5,"a":0.83,"b":1.03,"c":1.13},
{"t":1006,"a":0.42,"b":0.42,"c":0.38},{"t":1006,"a":0.8,"b":0.95,"c":1.05},{"t":1006,"a":1.3,"b":1.7,"c":1.9},{"t":1007.5,"a":0.61,"b":0.69,"c":0.72},{"t":1007.5,"a":1.05,"b":1.33,"c":1.48},
{"t":1009,"a":0.48,"b":0.48,"c":0.42},{"t":1009,"a":1.0,"b":1.2,"c":1.3},{"t":1009,"a":1.7,"b":2.1,"c":2.2},{"t":1010.5,"a":0.74,"b":0.84,"c":0.86},{"t":1010.5,"a":1.35,"b":1.65,"c":1.75},
{"t":1012,"a":0.5,"b":0.5,"c":0.45},{"t":1012,"a":1.1,"b":1.3,"c":1.5},{"t":1012,"a":1.9,"b":2.3,"c":2.43},{"t":1012,"a":1.5,"b":1.9,"c":2.1},{"t":1013.5,"a":0.8,"b":0.9,"c":0.98},{"t":1013.5,"a":1.5,"b":1.8,"c":1.97},
{"t":1015,"a":0.45,"b":0.45,"c":0.4},{"t":1015,"a":0.9,"b":1.0,"c":1.1},{"t":1015,"a":1.5,"b":1.7,"c":1.9},{"t":1016.5,"a":0.68,"b":0.73,"c":0.75},{"t":1016.5,"a":1.2,"b":1.35,"c":1.5},
{"t":1018,"a":0.4,"b":0.4,"c":0.35},{"t":1018,"a":0.6,"b":0.6,"c":0.7},{"t":1018,"a":0.9,"b":1.0,"c":1.1},{"t":1019.5,"a":0.5,"b":0.5,"c":0.53},{"t":1019.5,"a":0.75,"b":0.8,"c":0.9},
{"t":1021,"a":0.4,"b":0.38,"c":0.35},{"t":1021,"a":0.6,"b":0.6,"c":0.7},{"t":1021,"a":0.85,"b":0.9,"c":0.95},{"t":1022.5,"a":0.5,"b":0.49,"c":0.53},{"t":1022.5,"a":0.73,"b":0.75,"c":0.83},
{"t":1024,"a":0.45,"b":0.42,"c":0.4},{"t":1024,"a":0.8,"b":0.9,"c":1.0},{"t":1024,"a":1.3,"b":1.5,"c":1.7},{"t":1025.5,"a":0.63,"b":0.66,"c":0.7},{"t":1025.5,"a":1.05,"b":1.2,"c":1.35},
{"t":1027,"a":0.5,"b":0.5,"c":0.45},{"t":1027,"a":1.1,"b":1.3,"c":1.5},{"t":1027,"a":2.2,"b":2.5,"c":2.67},{"t":1027,"a":1.7,"b":2.0,"c":2.3},{"t":1028.5,"a":0.8,"b":0.9,"c":0.98},{"t":1028.5,"a":1.65,"b":1.9,"c":2.09},
{"t":1030,"a":0.48,"b":0.48,"c":0.42},{"t":1030,"a":1.0,"b":1.1,"c":1.3},{"t":1030,"a":1.6,"b":1.9,"c":2.2},{"t":1031.5,"a":0.74,"b":0.79,"c":0.86},{"t":1031.5,"a":1.3,"b":1.5,"c":1.75},
{"t":1033,"a":0.42,"b":0.4,"c":0.36},{"t":1033,"a":0.7,"b":0.7,"c":0.75},{"t":1033,"a":1.0,"b":1.1,"c":1.2},{"t":1034.5,"a":0.56,"b":0.55,"c":0.56},{"t":1034.5,"a":0.85,"b":0.9,"c":0.98},
{"t":1036,"a":0.38,"b":0.35,"c":0.32},{"t":1036,"a":0.55,"b":0.52,"c":0.55},{"t":1036,"a":0.75,"b":0.7,"c":0.8},{"t":1038,"a":0.47,"b":0.44,"c":0.44},{"t":1038,"a":0.65,"b":0.61,"c":0.68},
{"t":1040,"a":0.34,"b":0.31,"c":0.28},{"t":1040,"a":0.47,"b":0.44,"c":0.46},{"t":1040,"a":0.62,"b":0.58,"c":0.65},{"t":1042,"a":0.41,"b":0.38,"c":0.37},{"t":1042,"a":0.55,"b":0.51,"c":0.56},
{"t":1044,"a":0.3,"b":0.27,"c":0.24},{"t":1044,"a":0.4,"b":0.37,"c":0.4},{"t":1044,"a":0.52,"b":0.5,"c":0.56},{"t":1046.5,"a":0.35,"b":0.32,"c":0.32},{"t":1046.5,"a":0.46,"b":0.44,"c":0.48},
{"t":1049,"a":0.25,"b":0.22,"c":0.2},{"t":1049,"a":0.34,"b":0.31,"c":0.34},{"t":1049,"a":0.44,"b":0.41,"c":0.48},{"t":1051.5,"a":0.3,"b":0.27,"c":0.27},{"t":1051.5,"a":0.39,"b":0.36,"c":0.41},
{"t":1054,"a":0.2,"b":0.18,"c":0.16},{"t":1054,"a":0.27,"b":0.25,"c":0.27},{"t":1054,"a":0.35,"b":0.33,"c":0.38},{"t":1056.5,"a":0.24,"b":0.22,"c":0.22},{"t":1056.5,"a":0.31,"b":0.29,"c":0.33},
{"t":1059,"a":0.16,"b":0.15,"c":0.13},{"t":1059,"a":0.21,"b":0.2,"c":0.22},{"t":1059,"a":0.27,"b":0.26,"c":0.3},{"t":1061.5,"a":0.19,"b":0.18,"c":0.18},{"t":1061.5,"a":0.24,"b":0.23,"c":0.26},
{"t":1064,"a":0.12,"b":0.11,"c":0.1},{"t":1064,"a":0.16,"b":0.15,"c":0.17},{"t":1064,"a":0.21,"b":0.2,"c":0.24},{"t":1066.5,"a":0.14,"b":0.13,"c":0.14},{"t":1066.5,"a":0.19,"b":0.18,"c":0.21},
{"t":1069,"a":0.09,"b":0.09,"c":0.08},{"t":1069,"a":0.12,"b":0.12,"c":0.13},{"t":1069,"a":0.16,"b":0.15,"c":0.18},
{"t":1074,"a":0.07,"b":0.07,"c":0.06},{"t":1074,"a":0.1,"b":0.09,"c":0.11},{"t":1074,"a":0.12,"b":0.12,"c":0.14},
{"t":1079,"a":0.05,"b":0.05,"c":0.05},{"t":1079,"a":0.08,"b":0.08,"c":0.09},
{"t":1084,"a":0.04,"b":0.04,"c":0.04},{"t":1084,"a":0.06,"b":0.06,"c":0.07},
{"t":1089,"a":0.03,"b":0.03,"c":0.03},{"t":1089,"a":0.04,"b":0.04,"c":0.05},
{"t":1093,"a":0.02,"b":0.02,"c":0.02},{"t":1093,"a":0.03,"b":0.03,"c":0.04}
]},
"transform":[{"fold":["a","b","c"],"as":["s","v"]}],
"layer":[
{"mark":{"type":"point","filled":true,"size":24,"opacity":1,"strokeWidth":0},
 "encoding":{
  "x":{"field":"t","type":"quantitative","scale":{"domain":[0,1095],"nice":false,"zero":false},
       "axis":{"orient":"bottom","values":[0,90,181,273,365,455,546,638,730,820,911,1003,1095],"labelExpr":"['Jan','Apr','Jul','Oct'][round(datum.value/91.25)%4]","title":null,"grid":false,"domain":false,"tickSize":-5,"tickColor":"#444","labelPadding":13,"labelFont":"DejaVu Sans","labelFontSize":15,"labelColor":"#000","labelFlush":false,"labelOverlap":false,"labelBound":false}},
  "y":{"field":"v","type":"quantitative","scale":{"domain":[0,18],"nice":false},
       "axis":{"orient":"left","values":[0,2,4,6,8,10,12,14,16,18],"title":null,"grid":false,"domain":false,"tickSize":-5,"tickColor":"#444","labelPadding":9,"labelFont":"DejaVu Sans","labelFontSize":14,"labelColor":"#000","labelOverlap":false,"labelBound":false}},
  "color":{"field":"s","type":"nominal","scale":{"domain":["a","b","c"],"range":["#000000","#ff0000","#0000ff"]},
       "legend":{"title":null,"orient":"top-right","offset":4,"strokeColor":"#333","fillColor":"white","padding":7,"labelFont":"DejaVu Sans","labelFontSize":15,"labelColor":"#000","symbolType":"circle","symbolSize":12,"symbolOffset":7,"labelOffset":11,"rowPadding":7,"cornerRadius":0,"labelExpr":"datum.label=='a'?'350ppm':datum.label=='b'?'700ppm':'1050ppm'"}},
  "order":{"field":"s","type":"ordinal"}
 }},
{"mark":{"type":"point","opacity":0},
 "encoding":{
  "x":{"field":"t","type":"quantitative","axis":{"orient":"top","values":[0,90,181,273,365,455,546,638,730,820,911,1003,1095],"labels":false,"title":null,"grid":false,"domain":false,"tickSize":-5,"tickColor":"#444"}},
  "y":{"field":"v","type":"quantitative","axis":{"orient":"right","values":[0,2,4,6,8,10,12,14,16,18],"labels":false,"title":null,"grid":false,"domain":false,"tickSize":-5,"tickColor":"#444"}}
 }}
],
"resolve":{"axis":{"x":"independent","y":"independent"}}
}
